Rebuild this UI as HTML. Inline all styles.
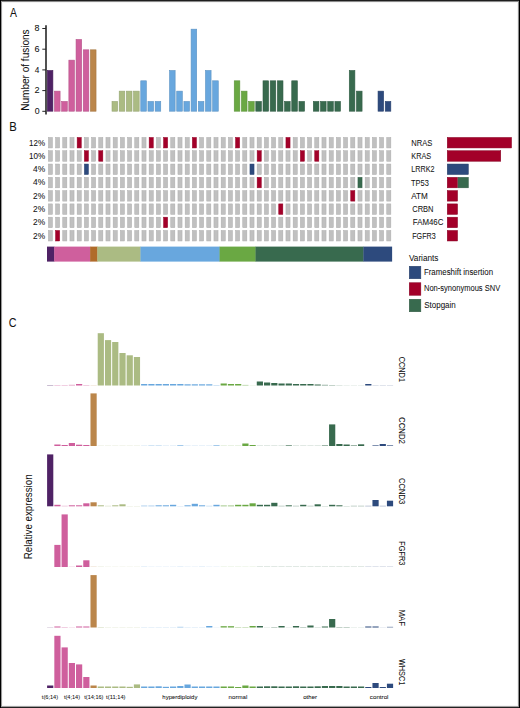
<!DOCTYPE html>
<html><head><meta charset="utf-8"><title>Figure</title>
<style>
html,body{margin:0;padding:0;background:#fff;}
body{width:520px;height:708px;overflow:hidden;}
svg{display:block;font-family:"Liberation Sans", sans-serif;}
</style></head>
<body>
<svg width="520" height="708" viewBox="0 0 520 708">
<rect x="0" y="0" width="520" height="708" fill="#fff"/>
<text x="9.97" y="16.70" font-size="12.2" textLength="6.95" lengthAdjust="spacingAndGlyphs" fill="#111" stroke="#111" stroke-width="0.05">A</text>
<text x="9.17" y="130.50" font-size="12.2" textLength="7.52" lengthAdjust="spacingAndGlyphs" fill="#111" stroke="#111" stroke-width="0.05">B</text>
<text x="8.86" y="326.60" font-size="12.8" textLength="7.76" lengthAdjust="spacingAndGlyphs" fill="#111" stroke="#111" stroke-width="0.05">C</text>
<rect x="47.30" y="70.48" width="5.60" height="40.72" fill="#4f2265" stroke="#461e59" stroke-width="0.6"/>
<rect x="54.49" y="91.14" width="5.60" height="20.06" fill="#cf5f9d" stroke="#b6548a" stroke-width="0.6"/>
<rect x="61.68" y="101.47" width="5.60" height="9.73" fill="#cf5f9d" stroke="#b6548a" stroke-width="0.6"/>
<rect x="68.87" y="60.15" width="5.60" height="51.05" fill="#cf5f9d" stroke="#b6548a" stroke-width="0.6"/>
<rect x="76.06" y="39.49" width="5.60" height="71.71" fill="#cf5f9d" stroke="#b6548a" stroke-width="0.6"/>
<rect x="83.25" y="49.82" width="5.60" height="61.38" fill="#cf5f9d" stroke="#b6548a" stroke-width="0.6"/>
<rect x="90.44" y="49.82" width="5.60" height="61.38" fill="#bb864b" stroke="#a57642" stroke-width="0.6"/>
<rect x="112.01" y="101.47" width="5.60" height="9.73" fill="#abbb83" stroke="#96a573" stroke-width="0.6"/>
<rect x="119.20" y="91.14" width="5.60" height="20.06" fill="#abbb83" stroke="#96a573" stroke-width="0.6"/>
<rect x="126.39" y="91.14" width="5.60" height="20.06" fill="#abbb83" stroke="#96a573" stroke-width="0.6"/>
<rect x="133.58" y="91.14" width="5.60" height="20.06" fill="#abbb83" stroke="#96a573" stroke-width="0.6"/>
<rect x="140.77" y="80.81" width="5.60" height="30.39" fill="#68a7de" stroke="#5c93c3" stroke-width="0.6"/>
<rect x="147.96" y="101.47" width="5.60" height="9.73" fill="#68a7de" stroke="#5c93c3" stroke-width="0.6"/>
<rect x="155.15" y="101.47" width="5.60" height="9.73" fill="#68a7de" stroke="#5c93c3" stroke-width="0.6"/>
<rect x="169.53" y="70.48" width="5.60" height="40.72" fill="#68a7de" stroke="#5c93c3" stroke-width="0.6"/>
<rect x="176.72" y="91.14" width="5.60" height="20.06" fill="#68a7de" stroke="#5c93c3" stroke-width="0.6"/>
<rect x="183.91" y="101.47" width="5.60" height="9.73" fill="#68a7de" stroke="#5c93c3" stroke-width="0.6"/>
<rect x="191.10" y="29.16" width="5.60" height="82.04" fill="#68a7de" stroke="#5c93c3" stroke-width="0.6"/>
<rect x="198.29" y="101.47" width="5.60" height="9.73" fill="#68a7de" stroke="#5c93c3" stroke-width="0.6"/>
<rect x="205.48" y="70.48" width="5.60" height="40.72" fill="#68a7de" stroke="#5c93c3" stroke-width="0.6"/>
<rect x="212.67" y="80.81" width="5.60" height="30.39" fill="#68a7de" stroke="#5c93c3" stroke-width="0.6"/>
<rect x="234.24" y="80.81" width="5.60" height="30.39" fill="#6aa843" stroke="#5d943b" stroke-width="0.6"/>
<rect x="241.43" y="91.14" width="5.60" height="20.06" fill="#6aa843" stroke="#5d943b" stroke-width="0.6"/>
<rect x="248.62" y="101.47" width="5.60" height="9.73" fill="#6aa843" stroke="#5d943b" stroke-width="0.6"/>
<rect x="255.81" y="101.47" width="5.60" height="9.73" fill="#386a4e" stroke="#315d45" stroke-width="0.6"/>
<rect x="263.00" y="80.81" width="5.60" height="30.39" fill="#386a4e" stroke="#315d45" stroke-width="0.6"/>
<rect x="270.19" y="80.81" width="5.60" height="30.39" fill="#386a4e" stroke="#315d45" stroke-width="0.6"/>
<rect x="277.38" y="80.81" width="5.60" height="30.39" fill="#386a4e" stroke="#315d45" stroke-width="0.6"/>
<rect x="284.57" y="101.47" width="5.60" height="9.73" fill="#386a4e" stroke="#315d45" stroke-width="0.6"/>
<rect x="291.76" y="80.81" width="5.60" height="30.39" fill="#386a4e" stroke="#315d45" stroke-width="0.6"/>
<rect x="298.95" y="101.47" width="5.60" height="9.73" fill="#386a4e" stroke="#315d45" stroke-width="0.6"/>
<rect x="313.33" y="101.47" width="5.60" height="9.73" fill="#386a4e" stroke="#315d45" stroke-width="0.6"/>
<rect x="320.52" y="101.47" width="5.60" height="9.73" fill="#386a4e" stroke="#315d45" stroke-width="0.6"/>
<rect x="327.71" y="101.47" width="5.60" height="9.73" fill="#386a4e" stroke="#315d45" stroke-width="0.6"/>
<rect x="334.90" y="101.47" width="5.60" height="9.73" fill="#386a4e" stroke="#315d45" stroke-width="0.6"/>
<rect x="349.28" y="70.48" width="5.60" height="40.72" fill="#386a4e" stroke="#315d45" stroke-width="0.6"/>
<rect x="356.47" y="91.14" width="5.60" height="20.06" fill="#386a4e" stroke="#315d45" stroke-width="0.6"/>
<rect x="378.04" y="91.14" width="5.60" height="20.06" fill="#2d4a7d" stroke="#28416e" stroke-width="0.6"/>
<rect x="385.23" y="101.47" width="5.60" height="9.73" fill="#2d4a7d" stroke="#28416e" stroke-width="0.6"/>
<line x1="46.0" y1="25.3" x2="46.0" y2="114.6" stroke="#262626" stroke-width="1.6"/>
<line x1="42.3" y1="111.30" x2="46" y2="111.30" stroke="#262626" stroke-width="1"/>
<text x="34.65" y="113.90" font-size="8.2" textLength="4.89" lengthAdjust="spacingAndGlyphs" fill="#111" stroke="#111" stroke-width="0.05">0</text>
<line x1="42.3" y1="90.60" x2="46" y2="90.60" stroke="#262626" stroke-width="1"/>
<text x="34.54" y="93.20" font-size="8.2" textLength="5.13" lengthAdjust="spacingAndGlyphs" fill="#111" stroke="#111" stroke-width="0.05">2</text>
<line x1="42.3" y1="69.90" x2="46" y2="69.90" stroke="#262626" stroke-width="1"/>
<text x="34.81" y="72.50" font-size="8.2" textLength="4.63" lengthAdjust="spacingAndGlyphs" fill="#111" stroke="#111" stroke-width="0.05">4</text>
<line x1="42.3" y1="49.20" x2="46" y2="49.20" stroke="#262626" stroke-width="1"/>
<text x="34.55" y="51.80" font-size="8.2" textLength="5.05" lengthAdjust="spacingAndGlyphs" fill="#111" stroke="#111" stroke-width="0.05">6</text>
<line x1="42.3" y1="28.50" x2="46" y2="28.50" stroke="#262626" stroke-width="1"/>
<text x="34.62" y="31.10" font-size="8.2" textLength="4.97" lengthAdjust="spacingAndGlyphs" fill="#111" stroke="#111" stroke-width="0.05">8</text>
<text x="28.60" y="110.73" font-size="10.8" textLength="81.38" lengthAdjust="spacingAndGlyphs" transform="rotate(-90 28.60 110.73)" fill="#111" stroke="#111" stroke-width="0.05">Number of fusions</text>
<rect x="48.35" y="137.45" width="4.10" height="10.50" fill="#c0c0c0" stroke="#adadad" stroke-width="0.5"/>
<rect x="55.55" y="137.45" width="4.10" height="10.50" fill="#c0c0c0" stroke="#adadad" stroke-width="0.5"/>
<rect x="62.75" y="137.45" width="4.10" height="10.50" fill="#c0c0c0" stroke="#adadad" stroke-width="0.5"/>
<rect x="69.95" y="137.45" width="4.10" height="10.50" fill="#c0c0c0" stroke="#adadad" stroke-width="0.5"/>
<rect x="77.15" y="137.45" width="4.10" height="10.50" fill="#a30029" stroke="#930025" stroke-width="0.5"/>
<rect x="84.35" y="137.45" width="4.10" height="10.50" fill="#c0c0c0" stroke="#adadad" stroke-width="0.5"/>
<rect x="91.55" y="137.45" width="4.10" height="10.50" fill="#c0c0c0" stroke="#adadad" stroke-width="0.5"/>
<rect x="98.75" y="137.45" width="4.10" height="10.50" fill="#c0c0c0" stroke="#adadad" stroke-width="0.5"/>
<rect x="105.95" y="137.45" width="4.10" height="10.50" fill="#c0c0c0" stroke="#adadad" stroke-width="0.5"/>
<rect x="113.15" y="137.45" width="4.10" height="10.50" fill="#c0c0c0" stroke="#adadad" stroke-width="0.5"/>
<rect x="120.35" y="137.45" width="4.10" height="10.50" fill="#c0c0c0" stroke="#adadad" stroke-width="0.5"/>
<rect x="127.55" y="137.45" width="4.10" height="10.50" fill="#c0c0c0" stroke="#adadad" stroke-width="0.5"/>
<rect x="134.75" y="137.45" width="4.10" height="10.50" fill="#c0c0c0" stroke="#adadad" stroke-width="0.5"/>
<rect x="141.95" y="137.45" width="4.10" height="10.50" fill="#c0c0c0" stroke="#adadad" stroke-width="0.5"/>
<rect x="149.15" y="137.45" width="4.10" height="10.50" fill="#a30029" stroke="#930025" stroke-width="0.5"/>
<rect x="156.35" y="137.45" width="4.10" height="10.50" fill="#c0c0c0" stroke="#adadad" stroke-width="0.5"/>
<rect x="163.55" y="137.45" width="4.10" height="10.50" fill="#a30029" stroke="#930025" stroke-width="0.5"/>
<rect x="170.75" y="137.45" width="4.10" height="10.50" fill="#c0c0c0" stroke="#adadad" stroke-width="0.5"/>
<rect x="177.95" y="137.45" width="4.10" height="10.50" fill="#c0c0c0" stroke="#adadad" stroke-width="0.5"/>
<rect x="185.15" y="137.45" width="4.10" height="10.50" fill="#c0c0c0" stroke="#adadad" stroke-width="0.5"/>
<rect x="192.35" y="137.45" width="4.10" height="10.50" fill="#a30029" stroke="#930025" stroke-width="0.5"/>
<rect x="199.55" y="137.45" width="4.10" height="10.50" fill="#c0c0c0" stroke="#adadad" stroke-width="0.5"/>
<rect x="206.75" y="137.45" width="4.10" height="10.50" fill="#c0c0c0" stroke="#adadad" stroke-width="0.5"/>
<rect x="213.95" y="137.45" width="4.10" height="10.50" fill="#c0c0c0" stroke="#adadad" stroke-width="0.5"/>
<rect x="221.15" y="137.45" width="4.10" height="10.50" fill="#c0c0c0" stroke="#adadad" stroke-width="0.5"/>
<rect x="228.35" y="137.45" width="4.10" height="10.50" fill="#c0c0c0" stroke="#adadad" stroke-width="0.5"/>
<rect x="235.55" y="137.45" width="4.10" height="10.50" fill="#a30029" stroke="#930025" stroke-width="0.5"/>
<rect x="242.75" y="137.45" width="4.10" height="10.50" fill="#c0c0c0" stroke="#adadad" stroke-width="0.5"/>
<rect x="249.95" y="137.45" width="4.10" height="10.50" fill="#c0c0c0" stroke="#adadad" stroke-width="0.5"/>
<rect x="257.15" y="137.45" width="4.10" height="10.50" fill="#c0c0c0" stroke="#adadad" stroke-width="0.5"/>
<rect x="264.35" y="137.45" width="4.10" height="10.50" fill="#c0c0c0" stroke="#adadad" stroke-width="0.5"/>
<rect x="271.55" y="137.45" width="4.10" height="10.50" fill="#c0c0c0" stroke="#adadad" stroke-width="0.5"/>
<rect x="278.75" y="137.45" width="4.10" height="10.50" fill="#c0c0c0" stroke="#adadad" stroke-width="0.5"/>
<rect x="285.95" y="137.45" width="4.10" height="10.50" fill="#a30029" stroke="#930025" stroke-width="0.5"/>
<rect x="293.15" y="137.45" width="4.10" height="10.50" fill="#c0c0c0" stroke="#adadad" stroke-width="0.5"/>
<rect x="300.35" y="137.45" width="4.10" height="10.50" fill="#c0c0c0" stroke="#adadad" stroke-width="0.5"/>
<rect x="307.55" y="137.45" width="4.10" height="10.50" fill="#c0c0c0" stroke="#adadad" stroke-width="0.5"/>
<rect x="314.75" y="137.45" width="4.10" height="10.50" fill="#c0c0c0" stroke="#adadad" stroke-width="0.5"/>
<rect x="321.95" y="137.45" width="4.10" height="10.50" fill="#c0c0c0" stroke="#adadad" stroke-width="0.5"/>
<rect x="329.15" y="137.45" width="4.10" height="10.50" fill="#c0c0c0" stroke="#adadad" stroke-width="0.5"/>
<rect x="336.35" y="137.45" width="4.10" height="10.50" fill="#c0c0c0" stroke="#adadad" stroke-width="0.5"/>
<rect x="343.55" y="137.45" width="4.10" height="10.50" fill="#c0c0c0" stroke="#adadad" stroke-width="0.5"/>
<rect x="350.75" y="137.45" width="4.10" height="10.50" fill="#c0c0c0" stroke="#adadad" stroke-width="0.5"/>
<rect x="357.95" y="137.45" width="4.10" height="10.50" fill="#c0c0c0" stroke="#adadad" stroke-width="0.5"/>
<rect x="365.15" y="137.45" width="4.10" height="10.50" fill="#c0c0c0" stroke="#adadad" stroke-width="0.5"/>
<rect x="372.35" y="137.45" width="4.10" height="10.50" fill="#c0c0c0" stroke="#adadad" stroke-width="0.5"/>
<rect x="379.55" y="137.45" width="4.10" height="10.50" fill="#c0c0c0" stroke="#adadad" stroke-width="0.5"/>
<rect x="386.75" y="137.45" width="4.10" height="10.50" fill="#c0c0c0" stroke="#adadad" stroke-width="0.5"/>
<text x="29.10" y="145.50" font-size="8.2" textLength="15.99" lengthAdjust="spacingAndGlyphs" fill="#111" stroke="#111" stroke-width="0.05">12%</text>
<text x="411.27" y="145.70" font-size="8.6" textLength="21.07" lengthAdjust="spacingAndGlyphs" fill="#111" stroke="#111" stroke-width="0.05">NRAS</text>
<rect x="48.35" y="150.74" width="4.10" height="10.50" fill="#c0c0c0" stroke="#adadad" stroke-width="0.5"/>
<rect x="55.55" y="150.74" width="4.10" height="10.50" fill="#c0c0c0" stroke="#adadad" stroke-width="0.5"/>
<rect x="62.75" y="150.74" width="4.10" height="10.50" fill="#c0c0c0" stroke="#adadad" stroke-width="0.5"/>
<rect x="69.95" y="150.74" width="4.10" height="10.50" fill="#c0c0c0" stroke="#adadad" stroke-width="0.5"/>
<rect x="77.15" y="150.74" width="4.10" height="10.50" fill="#c0c0c0" stroke="#adadad" stroke-width="0.5"/>
<rect x="84.35" y="150.74" width="4.10" height="10.50" fill="#a30029" stroke="#930025" stroke-width="0.5"/>
<rect x="91.55" y="150.74" width="4.10" height="10.50" fill="#c0c0c0" stroke="#adadad" stroke-width="0.5"/>
<rect x="98.75" y="150.74" width="4.10" height="10.50" fill="#a30029" stroke="#930025" stroke-width="0.5"/>
<rect x="105.95" y="150.74" width="4.10" height="10.50" fill="#c0c0c0" stroke="#adadad" stroke-width="0.5"/>
<rect x="113.15" y="150.74" width="4.10" height="10.50" fill="#c0c0c0" stroke="#adadad" stroke-width="0.5"/>
<rect x="120.35" y="150.74" width="4.10" height="10.50" fill="#c0c0c0" stroke="#adadad" stroke-width="0.5"/>
<rect x="127.55" y="150.74" width="4.10" height="10.50" fill="#c0c0c0" stroke="#adadad" stroke-width="0.5"/>
<rect x="134.75" y="150.74" width="4.10" height="10.50" fill="#c0c0c0" stroke="#adadad" stroke-width="0.5"/>
<rect x="141.95" y="150.74" width="4.10" height="10.50" fill="#c0c0c0" stroke="#adadad" stroke-width="0.5"/>
<rect x="149.15" y="150.74" width="4.10" height="10.50" fill="#c0c0c0" stroke="#adadad" stroke-width="0.5"/>
<rect x="156.35" y="150.74" width="4.10" height="10.50" fill="#c0c0c0" stroke="#adadad" stroke-width="0.5"/>
<rect x="163.55" y="150.74" width="4.10" height="10.50" fill="#c0c0c0" stroke="#adadad" stroke-width="0.5"/>
<rect x="170.75" y="150.74" width="4.10" height="10.50" fill="#c0c0c0" stroke="#adadad" stroke-width="0.5"/>
<rect x="177.95" y="150.74" width="4.10" height="10.50" fill="#c0c0c0" stroke="#adadad" stroke-width="0.5"/>
<rect x="185.15" y="150.74" width="4.10" height="10.50" fill="#c0c0c0" stroke="#adadad" stroke-width="0.5"/>
<rect x="192.35" y="150.74" width="4.10" height="10.50" fill="#c0c0c0" stroke="#adadad" stroke-width="0.5"/>
<rect x="199.55" y="150.74" width="4.10" height="10.50" fill="#c0c0c0" stroke="#adadad" stroke-width="0.5"/>
<rect x="206.75" y="150.74" width="4.10" height="10.50" fill="#c0c0c0" stroke="#adadad" stroke-width="0.5"/>
<rect x="213.95" y="150.74" width="4.10" height="10.50" fill="#c0c0c0" stroke="#adadad" stroke-width="0.5"/>
<rect x="221.15" y="150.74" width="4.10" height="10.50" fill="#c0c0c0" stroke="#adadad" stroke-width="0.5"/>
<rect x="228.35" y="150.74" width="4.10" height="10.50" fill="#c0c0c0" stroke="#adadad" stroke-width="0.5"/>
<rect x="235.55" y="150.74" width="4.10" height="10.50" fill="#c0c0c0" stroke="#adadad" stroke-width="0.5"/>
<rect x="242.75" y="150.74" width="4.10" height="10.50" fill="#c0c0c0" stroke="#adadad" stroke-width="0.5"/>
<rect x="249.95" y="150.74" width="4.10" height="10.50" fill="#c0c0c0" stroke="#adadad" stroke-width="0.5"/>
<rect x="257.15" y="150.74" width="4.10" height="10.50" fill="#a30029" stroke="#930025" stroke-width="0.5"/>
<rect x="264.35" y="150.74" width="4.10" height="10.50" fill="#c0c0c0" stroke="#adadad" stroke-width="0.5"/>
<rect x="271.55" y="150.74" width="4.10" height="10.50" fill="#c0c0c0" stroke="#adadad" stroke-width="0.5"/>
<rect x="278.75" y="150.74" width="4.10" height="10.50" fill="#c0c0c0" stroke="#adadad" stroke-width="0.5"/>
<rect x="285.95" y="150.74" width="4.10" height="10.50" fill="#c0c0c0" stroke="#adadad" stroke-width="0.5"/>
<rect x="293.15" y="150.74" width="4.10" height="10.50" fill="#c0c0c0" stroke="#adadad" stroke-width="0.5"/>
<rect x="300.35" y="150.74" width="4.10" height="10.50" fill="#a30029" stroke="#930025" stroke-width="0.5"/>
<rect x="307.55" y="150.74" width="4.10" height="10.50" fill="#c0c0c0" stroke="#adadad" stroke-width="0.5"/>
<rect x="314.75" y="150.74" width="4.10" height="10.50" fill="#a30029" stroke="#930025" stroke-width="0.5"/>
<rect x="321.95" y="150.74" width="4.10" height="10.50" fill="#c0c0c0" stroke="#adadad" stroke-width="0.5"/>
<rect x="329.15" y="150.74" width="4.10" height="10.50" fill="#c0c0c0" stroke="#adadad" stroke-width="0.5"/>
<rect x="336.35" y="150.74" width="4.10" height="10.50" fill="#c0c0c0" stroke="#adadad" stroke-width="0.5"/>
<rect x="343.55" y="150.74" width="4.10" height="10.50" fill="#c0c0c0" stroke="#adadad" stroke-width="0.5"/>
<rect x="350.75" y="150.74" width="4.10" height="10.50" fill="#c0c0c0" stroke="#adadad" stroke-width="0.5"/>
<rect x="357.95" y="150.74" width="4.10" height="10.50" fill="#c0c0c0" stroke="#adadad" stroke-width="0.5"/>
<rect x="365.15" y="150.74" width="4.10" height="10.50" fill="#c0c0c0" stroke="#adadad" stroke-width="0.5"/>
<rect x="372.35" y="150.74" width="4.10" height="10.50" fill="#c0c0c0" stroke="#adadad" stroke-width="0.5"/>
<rect x="379.55" y="150.74" width="4.10" height="10.50" fill="#c0c0c0" stroke="#adadad" stroke-width="0.5"/>
<rect x="386.75" y="150.74" width="4.10" height="10.50" fill="#c0c0c0" stroke="#adadad" stroke-width="0.5"/>
<text x="28.89" y="158.79" font-size="8.2" textLength="16.20" lengthAdjust="spacingAndGlyphs" fill="#111" stroke="#111" stroke-width="0.05">10%</text>
<text x="411.30" y="158.99" font-size="8.6" textLength="19.85" lengthAdjust="spacingAndGlyphs" fill="#111" stroke="#111" stroke-width="0.05">KRAS</text>
<rect x="48.35" y="164.03" width="4.10" height="10.50" fill="#c0c0c0" stroke="#adadad" stroke-width="0.5"/>
<rect x="55.55" y="164.03" width="4.10" height="10.50" fill="#c0c0c0" stroke="#adadad" stroke-width="0.5"/>
<rect x="62.75" y="164.03" width="4.10" height="10.50" fill="#c0c0c0" stroke="#adadad" stroke-width="0.5"/>
<rect x="69.95" y="164.03" width="4.10" height="10.50" fill="#c0c0c0" stroke="#adadad" stroke-width="0.5"/>
<rect x="77.15" y="164.03" width="4.10" height="10.50" fill="#c0c0c0" stroke="#adadad" stroke-width="0.5"/>
<rect x="84.35" y="164.03" width="4.10" height="10.50" fill="#2d4a7d" stroke="#284370" stroke-width="0.5"/>
<rect x="91.55" y="164.03" width="4.10" height="10.50" fill="#c0c0c0" stroke="#adadad" stroke-width="0.5"/>
<rect x="98.75" y="164.03" width="4.10" height="10.50" fill="#c0c0c0" stroke="#adadad" stroke-width="0.5"/>
<rect x="105.95" y="164.03" width="4.10" height="10.50" fill="#c0c0c0" stroke="#adadad" stroke-width="0.5"/>
<rect x="113.15" y="164.03" width="4.10" height="10.50" fill="#c0c0c0" stroke="#adadad" stroke-width="0.5"/>
<rect x="120.35" y="164.03" width="4.10" height="10.50" fill="#c0c0c0" stroke="#adadad" stroke-width="0.5"/>
<rect x="127.55" y="164.03" width="4.10" height="10.50" fill="#c0c0c0" stroke="#adadad" stroke-width="0.5"/>
<rect x="134.75" y="164.03" width="4.10" height="10.50" fill="#c0c0c0" stroke="#adadad" stroke-width="0.5"/>
<rect x="141.95" y="164.03" width="4.10" height="10.50" fill="#c0c0c0" stroke="#adadad" stroke-width="0.5"/>
<rect x="149.15" y="164.03" width="4.10" height="10.50" fill="#c0c0c0" stroke="#adadad" stroke-width="0.5"/>
<rect x="156.35" y="164.03" width="4.10" height="10.50" fill="#c0c0c0" stroke="#adadad" stroke-width="0.5"/>
<rect x="163.55" y="164.03" width="4.10" height="10.50" fill="#c0c0c0" stroke="#adadad" stroke-width="0.5"/>
<rect x="170.75" y="164.03" width="4.10" height="10.50" fill="#c0c0c0" stroke="#adadad" stroke-width="0.5"/>
<rect x="177.95" y="164.03" width="4.10" height="10.50" fill="#c0c0c0" stroke="#adadad" stroke-width="0.5"/>
<rect x="185.15" y="164.03" width="4.10" height="10.50" fill="#c0c0c0" stroke="#adadad" stroke-width="0.5"/>
<rect x="192.35" y="164.03" width="4.10" height="10.50" fill="#c0c0c0" stroke="#adadad" stroke-width="0.5"/>
<rect x="199.55" y="164.03" width="4.10" height="10.50" fill="#c0c0c0" stroke="#adadad" stroke-width="0.5"/>
<rect x="206.75" y="164.03" width="4.10" height="10.50" fill="#c0c0c0" stroke="#adadad" stroke-width="0.5"/>
<rect x="213.95" y="164.03" width="4.10" height="10.50" fill="#c0c0c0" stroke="#adadad" stroke-width="0.5"/>
<rect x="221.15" y="164.03" width="4.10" height="10.50" fill="#c0c0c0" stroke="#adadad" stroke-width="0.5"/>
<rect x="228.35" y="164.03" width="4.10" height="10.50" fill="#c0c0c0" stroke="#adadad" stroke-width="0.5"/>
<rect x="235.55" y="164.03" width="4.10" height="10.50" fill="#c0c0c0" stroke="#adadad" stroke-width="0.5"/>
<rect x="242.75" y="164.03" width="4.10" height="10.50" fill="#c0c0c0" stroke="#adadad" stroke-width="0.5"/>
<rect x="249.95" y="164.03" width="4.10" height="10.50" fill="#2d4a7d" stroke="#284370" stroke-width="0.5"/>
<rect x="257.15" y="164.03" width="4.10" height="10.50" fill="#c0c0c0" stroke="#adadad" stroke-width="0.5"/>
<rect x="264.35" y="164.03" width="4.10" height="10.50" fill="#c0c0c0" stroke="#adadad" stroke-width="0.5"/>
<rect x="271.55" y="164.03" width="4.10" height="10.50" fill="#c0c0c0" stroke="#adadad" stroke-width="0.5"/>
<rect x="278.75" y="164.03" width="4.10" height="10.50" fill="#c0c0c0" stroke="#adadad" stroke-width="0.5"/>
<rect x="285.95" y="164.03" width="4.10" height="10.50" fill="#c0c0c0" stroke="#adadad" stroke-width="0.5"/>
<rect x="293.15" y="164.03" width="4.10" height="10.50" fill="#c0c0c0" stroke="#adadad" stroke-width="0.5"/>
<rect x="300.35" y="164.03" width="4.10" height="10.50" fill="#c0c0c0" stroke="#adadad" stroke-width="0.5"/>
<rect x="307.55" y="164.03" width="4.10" height="10.50" fill="#c0c0c0" stroke="#adadad" stroke-width="0.5"/>
<rect x="314.75" y="164.03" width="4.10" height="10.50" fill="#c0c0c0" stroke="#adadad" stroke-width="0.5"/>
<rect x="321.95" y="164.03" width="4.10" height="10.50" fill="#c0c0c0" stroke="#adadad" stroke-width="0.5"/>
<rect x="329.15" y="164.03" width="4.10" height="10.50" fill="#c0c0c0" stroke="#adadad" stroke-width="0.5"/>
<rect x="336.35" y="164.03" width="4.10" height="10.50" fill="#c0c0c0" stroke="#adadad" stroke-width="0.5"/>
<rect x="343.55" y="164.03" width="4.10" height="10.50" fill="#c0c0c0" stroke="#adadad" stroke-width="0.5"/>
<rect x="350.75" y="164.03" width="4.10" height="10.50" fill="#c0c0c0" stroke="#adadad" stroke-width="0.5"/>
<rect x="357.95" y="164.03" width="4.10" height="10.50" fill="#c0c0c0" stroke="#adadad" stroke-width="0.5"/>
<rect x="365.15" y="164.03" width="4.10" height="10.50" fill="#c0c0c0" stroke="#adadad" stroke-width="0.5"/>
<rect x="372.35" y="164.03" width="4.10" height="10.50" fill="#c0c0c0" stroke="#adadad" stroke-width="0.5"/>
<rect x="379.55" y="164.03" width="4.10" height="10.50" fill="#c0c0c0" stroke="#adadad" stroke-width="0.5"/>
<rect x="386.75" y="164.03" width="4.10" height="10.50" fill="#c0c0c0" stroke="#adadad" stroke-width="0.5"/>
<text x="33.01" y="172.08" font-size="8.2" textLength="12.11" lengthAdjust="spacingAndGlyphs" fill="#111" stroke="#111" stroke-width="0.05">4%</text>
<text x="411.30" y="172.28" font-size="8.6" textLength="23.26" lengthAdjust="spacingAndGlyphs" fill="#111" stroke="#111" stroke-width="0.05">LRRK2</text>
<rect x="48.35" y="177.32" width="4.10" height="10.50" fill="#c0c0c0" stroke="#adadad" stroke-width="0.5"/>
<rect x="55.55" y="177.32" width="4.10" height="10.50" fill="#c0c0c0" stroke="#adadad" stroke-width="0.5"/>
<rect x="62.75" y="177.32" width="4.10" height="10.50" fill="#c0c0c0" stroke="#adadad" stroke-width="0.5"/>
<rect x="69.95" y="177.32" width="4.10" height="10.50" fill="#c0c0c0" stroke="#adadad" stroke-width="0.5"/>
<rect x="77.15" y="177.32" width="4.10" height="10.50" fill="#c0c0c0" stroke="#adadad" stroke-width="0.5"/>
<rect x="84.35" y="177.32" width="4.10" height="10.50" fill="#c0c0c0" stroke="#adadad" stroke-width="0.5"/>
<rect x="91.55" y="177.32" width="4.10" height="10.50" fill="#c0c0c0" stroke="#adadad" stroke-width="0.5"/>
<rect x="98.75" y="177.32" width="4.10" height="10.50" fill="#c0c0c0" stroke="#adadad" stroke-width="0.5"/>
<rect x="105.95" y="177.32" width="4.10" height="10.50" fill="#c0c0c0" stroke="#adadad" stroke-width="0.5"/>
<rect x="113.15" y="177.32" width="4.10" height="10.50" fill="#c0c0c0" stroke="#adadad" stroke-width="0.5"/>
<rect x="120.35" y="177.32" width="4.10" height="10.50" fill="#c0c0c0" stroke="#adadad" stroke-width="0.5"/>
<rect x="127.55" y="177.32" width="4.10" height="10.50" fill="#c0c0c0" stroke="#adadad" stroke-width="0.5"/>
<rect x="134.75" y="177.32" width="4.10" height="10.50" fill="#c0c0c0" stroke="#adadad" stroke-width="0.5"/>
<rect x="141.95" y="177.32" width="4.10" height="10.50" fill="#c0c0c0" stroke="#adadad" stroke-width="0.5"/>
<rect x="149.15" y="177.32" width="4.10" height="10.50" fill="#c0c0c0" stroke="#adadad" stroke-width="0.5"/>
<rect x="156.35" y="177.32" width="4.10" height="10.50" fill="#c0c0c0" stroke="#adadad" stroke-width="0.5"/>
<rect x="163.55" y="177.32" width="4.10" height="10.50" fill="#c0c0c0" stroke="#adadad" stroke-width="0.5"/>
<rect x="170.75" y="177.32" width="4.10" height="10.50" fill="#c0c0c0" stroke="#adadad" stroke-width="0.5"/>
<rect x="177.95" y="177.32" width="4.10" height="10.50" fill="#c0c0c0" stroke="#adadad" stroke-width="0.5"/>
<rect x="185.15" y="177.32" width="4.10" height="10.50" fill="#c0c0c0" stroke="#adadad" stroke-width="0.5"/>
<rect x="192.35" y="177.32" width="4.10" height="10.50" fill="#c0c0c0" stroke="#adadad" stroke-width="0.5"/>
<rect x="199.55" y="177.32" width="4.10" height="10.50" fill="#c0c0c0" stroke="#adadad" stroke-width="0.5"/>
<rect x="206.75" y="177.32" width="4.10" height="10.50" fill="#c0c0c0" stroke="#adadad" stroke-width="0.5"/>
<rect x="213.95" y="177.32" width="4.10" height="10.50" fill="#c0c0c0" stroke="#adadad" stroke-width="0.5"/>
<rect x="221.15" y="177.32" width="4.10" height="10.50" fill="#c0c0c0" stroke="#adadad" stroke-width="0.5"/>
<rect x="228.35" y="177.32" width="4.10" height="10.50" fill="#c0c0c0" stroke="#adadad" stroke-width="0.5"/>
<rect x="235.55" y="177.32" width="4.10" height="10.50" fill="#c0c0c0" stroke="#adadad" stroke-width="0.5"/>
<rect x="242.75" y="177.32" width="4.10" height="10.50" fill="#c0c0c0" stroke="#adadad" stroke-width="0.5"/>
<rect x="249.95" y="177.32" width="4.10" height="10.50" fill="#c0c0c0" stroke="#adadad" stroke-width="0.5"/>
<rect x="257.15" y="177.32" width="4.10" height="10.50" fill="#a30029" stroke="#930025" stroke-width="0.5"/>
<rect x="264.35" y="177.32" width="4.10" height="10.50" fill="#c0c0c0" stroke="#adadad" stroke-width="0.5"/>
<rect x="271.55" y="177.32" width="4.10" height="10.50" fill="#c0c0c0" stroke="#adadad" stroke-width="0.5"/>
<rect x="278.75" y="177.32" width="4.10" height="10.50" fill="#c0c0c0" stroke="#adadad" stroke-width="0.5"/>
<rect x="285.95" y="177.32" width="4.10" height="10.50" fill="#c0c0c0" stroke="#adadad" stroke-width="0.5"/>
<rect x="293.15" y="177.32" width="4.10" height="10.50" fill="#c0c0c0" stroke="#adadad" stroke-width="0.5"/>
<rect x="300.35" y="177.32" width="4.10" height="10.50" fill="#c0c0c0" stroke="#adadad" stroke-width="0.5"/>
<rect x="307.55" y="177.32" width="4.10" height="10.50" fill="#c0c0c0" stroke="#adadad" stroke-width="0.5"/>
<rect x="314.75" y="177.32" width="4.10" height="10.50" fill="#c0c0c0" stroke="#adadad" stroke-width="0.5"/>
<rect x="321.95" y="177.32" width="4.10" height="10.50" fill="#c0c0c0" stroke="#adadad" stroke-width="0.5"/>
<rect x="329.15" y="177.32" width="4.10" height="10.50" fill="#c0c0c0" stroke="#adadad" stroke-width="0.5"/>
<rect x="336.35" y="177.32" width="4.10" height="10.50" fill="#c0c0c0" stroke="#adadad" stroke-width="0.5"/>
<rect x="343.55" y="177.32" width="4.10" height="10.50" fill="#c0c0c0" stroke="#adadad" stroke-width="0.5"/>
<rect x="350.75" y="177.32" width="4.10" height="10.50" fill="#c0c0c0" stroke="#adadad" stroke-width="0.5"/>
<rect x="357.95" y="177.32" width="4.10" height="10.50" fill="#386a4e" stroke="#325f46" stroke-width="0.5"/>
<rect x="365.15" y="177.32" width="4.10" height="10.50" fill="#c0c0c0" stroke="#adadad" stroke-width="0.5"/>
<rect x="372.35" y="177.32" width="4.10" height="10.50" fill="#c0c0c0" stroke="#adadad" stroke-width="0.5"/>
<rect x="379.55" y="177.32" width="4.10" height="10.50" fill="#c0c0c0" stroke="#adadad" stroke-width="0.5"/>
<rect x="386.75" y="177.32" width="4.10" height="10.50" fill="#c0c0c0" stroke="#adadad" stroke-width="0.5"/>
<text x="33.01" y="185.37" font-size="8.2" textLength="12.11" lengthAdjust="spacingAndGlyphs" fill="#111" stroke="#111" stroke-width="0.05">4%</text>
<text x="411.03" y="185.57" font-size="8.6" textLength="17.79" lengthAdjust="spacingAndGlyphs" fill="#111" stroke="#111" stroke-width="0.05">TP53</text>
<rect x="48.35" y="190.61" width="4.10" height="10.50" fill="#c0c0c0" stroke="#adadad" stroke-width="0.5"/>
<rect x="55.55" y="190.61" width="4.10" height="10.50" fill="#c0c0c0" stroke="#adadad" stroke-width="0.5"/>
<rect x="62.75" y="190.61" width="4.10" height="10.50" fill="#c0c0c0" stroke="#adadad" stroke-width="0.5"/>
<rect x="69.95" y="190.61" width="4.10" height="10.50" fill="#c0c0c0" stroke="#adadad" stroke-width="0.5"/>
<rect x="77.15" y="190.61" width="4.10" height="10.50" fill="#c0c0c0" stroke="#adadad" stroke-width="0.5"/>
<rect x="84.35" y="190.61" width="4.10" height="10.50" fill="#c0c0c0" stroke="#adadad" stroke-width="0.5"/>
<rect x="91.55" y="190.61" width="4.10" height="10.50" fill="#c0c0c0" stroke="#adadad" stroke-width="0.5"/>
<rect x="98.75" y="190.61" width="4.10" height="10.50" fill="#c0c0c0" stroke="#adadad" stroke-width="0.5"/>
<rect x="105.95" y="190.61" width="4.10" height="10.50" fill="#c0c0c0" stroke="#adadad" stroke-width="0.5"/>
<rect x="113.15" y="190.61" width="4.10" height="10.50" fill="#c0c0c0" stroke="#adadad" stroke-width="0.5"/>
<rect x="120.35" y="190.61" width="4.10" height="10.50" fill="#c0c0c0" stroke="#adadad" stroke-width="0.5"/>
<rect x="127.55" y="190.61" width="4.10" height="10.50" fill="#c0c0c0" stroke="#adadad" stroke-width="0.5"/>
<rect x="134.75" y="190.61" width="4.10" height="10.50" fill="#c0c0c0" stroke="#adadad" stroke-width="0.5"/>
<rect x="141.95" y="190.61" width="4.10" height="10.50" fill="#c0c0c0" stroke="#adadad" stroke-width="0.5"/>
<rect x="149.15" y="190.61" width="4.10" height="10.50" fill="#c0c0c0" stroke="#adadad" stroke-width="0.5"/>
<rect x="156.35" y="190.61" width="4.10" height="10.50" fill="#c0c0c0" stroke="#adadad" stroke-width="0.5"/>
<rect x="163.55" y="190.61" width="4.10" height="10.50" fill="#c0c0c0" stroke="#adadad" stroke-width="0.5"/>
<rect x="170.75" y="190.61" width="4.10" height="10.50" fill="#c0c0c0" stroke="#adadad" stroke-width="0.5"/>
<rect x="177.95" y="190.61" width="4.10" height="10.50" fill="#c0c0c0" stroke="#adadad" stroke-width="0.5"/>
<rect x="185.15" y="190.61" width="4.10" height="10.50" fill="#c0c0c0" stroke="#adadad" stroke-width="0.5"/>
<rect x="192.35" y="190.61" width="4.10" height="10.50" fill="#c0c0c0" stroke="#adadad" stroke-width="0.5"/>
<rect x="199.55" y="190.61" width="4.10" height="10.50" fill="#c0c0c0" stroke="#adadad" stroke-width="0.5"/>
<rect x="206.75" y="190.61" width="4.10" height="10.50" fill="#c0c0c0" stroke="#adadad" stroke-width="0.5"/>
<rect x="213.95" y="190.61" width="4.10" height="10.50" fill="#c0c0c0" stroke="#adadad" stroke-width="0.5"/>
<rect x="221.15" y="190.61" width="4.10" height="10.50" fill="#c0c0c0" stroke="#adadad" stroke-width="0.5"/>
<rect x="228.35" y="190.61" width="4.10" height="10.50" fill="#c0c0c0" stroke="#adadad" stroke-width="0.5"/>
<rect x="235.55" y="190.61" width="4.10" height="10.50" fill="#c0c0c0" stroke="#adadad" stroke-width="0.5"/>
<rect x="242.75" y="190.61" width="4.10" height="10.50" fill="#c0c0c0" stroke="#adadad" stroke-width="0.5"/>
<rect x="249.95" y="190.61" width="4.10" height="10.50" fill="#c0c0c0" stroke="#adadad" stroke-width="0.5"/>
<rect x="257.15" y="190.61" width="4.10" height="10.50" fill="#c0c0c0" stroke="#adadad" stroke-width="0.5"/>
<rect x="264.35" y="190.61" width="4.10" height="10.50" fill="#c0c0c0" stroke="#adadad" stroke-width="0.5"/>
<rect x="271.55" y="190.61" width="4.10" height="10.50" fill="#c0c0c0" stroke="#adadad" stroke-width="0.5"/>
<rect x="278.75" y="190.61" width="4.10" height="10.50" fill="#c0c0c0" stroke="#adadad" stroke-width="0.5"/>
<rect x="285.95" y="190.61" width="4.10" height="10.50" fill="#c0c0c0" stroke="#adadad" stroke-width="0.5"/>
<rect x="293.15" y="190.61" width="4.10" height="10.50" fill="#c0c0c0" stroke="#adadad" stroke-width="0.5"/>
<rect x="300.35" y="190.61" width="4.10" height="10.50" fill="#c0c0c0" stroke="#adadad" stroke-width="0.5"/>
<rect x="307.55" y="190.61" width="4.10" height="10.50" fill="#c0c0c0" stroke="#adadad" stroke-width="0.5"/>
<rect x="314.75" y="190.61" width="4.10" height="10.50" fill="#c0c0c0" stroke="#adadad" stroke-width="0.5"/>
<rect x="321.95" y="190.61" width="4.10" height="10.50" fill="#c0c0c0" stroke="#adadad" stroke-width="0.5"/>
<rect x="329.15" y="190.61" width="4.10" height="10.50" fill="#c0c0c0" stroke="#adadad" stroke-width="0.5"/>
<rect x="336.35" y="190.61" width="4.10" height="10.50" fill="#c0c0c0" stroke="#adadad" stroke-width="0.5"/>
<rect x="343.55" y="190.61" width="4.10" height="10.50" fill="#c0c0c0" stroke="#adadad" stroke-width="0.5"/>
<rect x="350.75" y="190.61" width="4.10" height="10.50" fill="#a30029" stroke="#930025" stroke-width="0.5"/>
<rect x="357.95" y="190.61" width="4.10" height="10.50" fill="#c0c0c0" stroke="#adadad" stroke-width="0.5"/>
<rect x="365.15" y="190.61" width="4.10" height="10.50" fill="#c0c0c0" stroke="#adadad" stroke-width="0.5"/>
<rect x="372.35" y="190.61" width="4.10" height="10.50" fill="#c0c0c0" stroke="#adadad" stroke-width="0.5"/>
<rect x="379.55" y="190.61" width="4.10" height="10.50" fill="#c0c0c0" stroke="#adadad" stroke-width="0.5"/>
<rect x="386.75" y="190.61" width="4.10" height="10.50" fill="#c0c0c0" stroke="#adadad" stroke-width="0.5"/>
<text x="33.08" y="198.66" font-size="8.2" textLength="12.03" lengthAdjust="spacingAndGlyphs" fill="#111" stroke="#111" stroke-width="0.05">2%</text>
<text x="411.18" y="198.86" font-size="8.6" textLength="16.61" lengthAdjust="spacingAndGlyphs" fill="#111" stroke="#111" stroke-width="0.05">ATM</text>
<rect x="48.35" y="203.90" width="4.10" height="10.50" fill="#c0c0c0" stroke="#adadad" stroke-width="0.5"/>
<rect x="55.55" y="203.90" width="4.10" height="10.50" fill="#c0c0c0" stroke="#adadad" stroke-width="0.5"/>
<rect x="62.75" y="203.90" width="4.10" height="10.50" fill="#c0c0c0" stroke="#adadad" stroke-width="0.5"/>
<rect x="69.95" y="203.90" width="4.10" height="10.50" fill="#c0c0c0" stroke="#adadad" stroke-width="0.5"/>
<rect x="77.15" y="203.90" width="4.10" height="10.50" fill="#c0c0c0" stroke="#adadad" stroke-width="0.5"/>
<rect x="84.35" y="203.90" width="4.10" height="10.50" fill="#c0c0c0" stroke="#adadad" stroke-width="0.5"/>
<rect x="91.55" y="203.90" width="4.10" height="10.50" fill="#c0c0c0" stroke="#adadad" stroke-width="0.5"/>
<rect x="98.75" y="203.90" width="4.10" height="10.50" fill="#c0c0c0" stroke="#adadad" stroke-width="0.5"/>
<rect x="105.95" y="203.90" width="4.10" height="10.50" fill="#c0c0c0" stroke="#adadad" stroke-width="0.5"/>
<rect x="113.15" y="203.90" width="4.10" height="10.50" fill="#c0c0c0" stroke="#adadad" stroke-width="0.5"/>
<rect x="120.35" y="203.90" width="4.10" height="10.50" fill="#c0c0c0" stroke="#adadad" stroke-width="0.5"/>
<rect x="127.55" y="203.90" width="4.10" height="10.50" fill="#c0c0c0" stroke="#adadad" stroke-width="0.5"/>
<rect x="134.75" y="203.90" width="4.10" height="10.50" fill="#c0c0c0" stroke="#adadad" stroke-width="0.5"/>
<rect x="141.95" y="203.90" width="4.10" height="10.50" fill="#c0c0c0" stroke="#adadad" stroke-width="0.5"/>
<rect x="149.15" y="203.90" width="4.10" height="10.50" fill="#c0c0c0" stroke="#adadad" stroke-width="0.5"/>
<rect x="156.35" y="203.90" width="4.10" height="10.50" fill="#c0c0c0" stroke="#adadad" stroke-width="0.5"/>
<rect x="163.55" y="203.90" width="4.10" height="10.50" fill="#c0c0c0" stroke="#adadad" stroke-width="0.5"/>
<rect x="170.75" y="203.90" width="4.10" height="10.50" fill="#c0c0c0" stroke="#adadad" stroke-width="0.5"/>
<rect x="177.95" y="203.90" width="4.10" height="10.50" fill="#c0c0c0" stroke="#adadad" stroke-width="0.5"/>
<rect x="185.15" y="203.90" width="4.10" height="10.50" fill="#c0c0c0" stroke="#adadad" stroke-width="0.5"/>
<rect x="192.35" y="203.90" width="4.10" height="10.50" fill="#c0c0c0" stroke="#adadad" stroke-width="0.5"/>
<rect x="199.55" y="203.90" width="4.10" height="10.50" fill="#c0c0c0" stroke="#adadad" stroke-width="0.5"/>
<rect x="206.75" y="203.90" width="4.10" height="10.50" fill="#c0c0c0" stroke="#adadad" stroke-width="0.5"/>
<rect x="213.95" y="203.90" width="4.10" height="10.50" fill="#c0c0c0" stroke="#adadad" stroke-width="0.5"/>
<rect x="221.15" y="203.90" width="4.10" height="10.50" fill="#c0c0c0" stroke="#adadad" stroke-width="0.5"/>
<rect x="228.35" y="203.90" width="4.10" height="10.50" fill="#c0c0c0" stroke="#adadad" stroke-width="0.5"/>
<rect x="235.55" y="203.90" width="4.10" height="10.50" fill="#c0c0c0" stroke="#adadad" stroke-width="0.5"/>
<rect x="242.75" y="203.90" width="4.10" height="10.50" fill="#c0c0c0" stroke="#adadad" stroke-width="0.5"/>
<rect x="249.95" y="203.90" width="4.10" height="10.50" fill="#c0c0c0" stroke="#adadad" stroke-width="0.5"/>
<rect x="257.15" y="203.90" width="4.10" height="10.50" fill="#c0c0c0" stroke="#adadad" stroke-width="0.5"/>
<rect x="264.35" y="203.90" width="4.10" height="10.50" fill="#c0c0c0" stroke="#adadad" stroke-width="0.5"/>
<rect x="271.55" y="203.90" width="4.10" height="10.50" fill="#c0c0c0" stroke="#adadad" stroke-width="0.5"/>
<rect x="278.75" y="203.90" width="4.10" height="10.50" fill="#a30029" stroke="#930025" stroke-width="0.5"/>
<rect x="285.95" y="203.90" width="4.10" height="10.50" fill="#c0c0c0" stroke="#adadad" stroke-width="0.5"/>
<rect x="293.15" y="203.90" width="4.10" height="10.50" fill="#c0c0c0" stroke="#adadad" stroke-width="0.5"/>
<rect x="300.35" y="203.90" width="4.10" height="10.50" fill="#c0c0c0" stroke="#adadad" stroke-width="0.5"/>
<rect x="307.55" y="203.90" width="4.10" height="10.50" fill="#c0c0c0" stroke="#adadad" stroke-width="0.5"/>
<rect x="314.75" y="203.90" width="4.10" height="10.50" fill="#c0c0c0" stroke="#adadad" stroke-width="0.5"/>
<rect x="321.95" y="203.90" width="4.10" height="10.50" fill="#c0c0c0" stroke="#adadad" stroke-width="0.5"/>
<rect x="329.15" y="203.90" width="4.10" height="10.50" fill="#c0c0c0" stroke="#adadad" stroke-width="0.5"/>
<rect x="336.35" y="203.90" width="4.10" height="10.50" fill="#c0c0c0" stroke="#adadad" stroke-width="0.5"/>
<rect x="343.55" y="203.90" width="4.10" height="10.50" fill="#c0c0c0" stroke="#adadad" stroke-width="0.5"/>
<rect x="350.75" y="203.90" width="4.10" height="10.50" fill="#c0c0c0" stroke="#adadad" stroke-width="0.5"/>
<rect x="357.95" y="203.90" width="4.10" height="10.50" fill="#c0c0c0" stroke="#adadad" stroke-width="0.5"/>
<rect x="365.15" y="203.90" width="4.10" height="10.50" fill="#c0c0c0" stroke="#adadad" stroke-width="0.5"/>
<rect x="372.35" y="203.90" width="4.10" height="10.50" fill="#c0c0c0" stroke="#adadad" stroke-width="0.5"/>
<rect x="379.55" y="203.90" width="4.10" height="10.50" fill="#c0c0c0" stroke="#adadad" stroke-width="0.5"/>
<rect x="386.75" y="203.90" width="4.10" height="10.50" fill="#c0c0c0" stroke="#adadad" stroke-width="0.5"/>
<text x="33.08" y="211.95" font-size="8.2" textLength="12.03" lengthAdjust="spacingAndGlyphs" fill="#111" stroke="#111" stroke-width="0.05">2%</text>
<text x="412.22" y="212.15" font-size="8.6" textLength="21.28" lengthAdjust="spacingAndGlyphs" fill="#111" stroke="#111" stroke-width="0.05">CRBN</text>
<rect x="48.35" y="217.19" width="4.10" height="10.50" fill="#c0c0c0" stroke="#adadad" stroke-width="0.5"/>
<rect x="55.55" y="217.19" width="4.10" height="10.50" fill="#c0c0c0" stroke="#adadad" stroke-width="0.5"/>
<rect x="62.75" y="217.19" width="4.10" height="10.50" fill="#c0c0c0" stroke="#adadad" stroke-width="0.5"/>
<rect x="69.95" y="217.19" width="4.10" height="10.50" fill="#c0c0c0" stroke="#adadad" stroke-width="0.5"/>
<rect x="77.15" y="217.19" width="4.10" height="10.50" fill="#c0c0c0" stroke="#adadad" stroke-width="0.5"/>
<rect x="84.35" y="217.19" width="4.10" height="10.50" fill="#c0c0c0" stroke="#adadad" stroke-width="0.5"/>
<rect x="91.55" y="217.19" width="4.10" height="10.50" fill="#c0c0c0" stroke="#adadad" stroke-width="0.5"/>
<rect x="98.75" y="217.19" width="4.10" height="10.50" fill="#c0c0c0" stroke="#adadad" stroke-width="0.5"/>
<rect x="105.95" y="217.19" width="4.10" height="10.50" fill="#c0c0c0" stroke="#adadad" stroke-width="0.5"/>
<rect x="113.15" y="217.19" width="4.10" height="10.50" fill="#c0c0c0" stroke="#adadad" stroke-width="0.5"/>
<rect x="120.35" y="217.19" width="4.10" height="10.50" fill="#c0c0c0" stroke="#adadad" stroke-width="0.5"/>
<rect x="127.55" y="217.19" width="4.10" height="10.50" fill="#c0c0c0" stroke="#adadad" stroke-width="0.5"/>
<rect x="134.75" y="217.19" width="4.10" height="10.50" fill="#c0c0c0" stroke="#adadad" stroke-width="0.5"/>
<rect x="141.95" y="217.19" width="4.10" height="10.50" fill="#c0c0c0" stroke="#adadad" stroke-width="0.5"/>
<rect x="149.15" y="217.19" width="4.10" height="10.50" fill="#c0c0c0" stroke="#adadad" stroke-width="0.5"/>
<rect x="156.35" y="217.19" width="4.10" height="10.50" fill="#c0c0c0" stroke="#adadad" stroke-width="0.5"/>
<rect x="163.55" y="217.19" width="4.10" height="10.50" fill="#a30029" stroke="#930025" stroke-width="0.5"/>
<rect x="170.75" y="217.19" width="4.10" height="10.50" fill="#c0c0c0" stroke="#adadad" stroke-width="0.5"/>
<rect x="177.95" y="217.19" width="4.10" height="10.50" fill="#c0c0c0" stroke="#adadad" stroke-width="0.5"/>
<rect x="185.15" y="217.19" width="4.10" height="10.50" fill="#c0c0c0" stroke="#adadad" stroke-width="0.5"/>
<rect x="192.35" y="217.19" width="4.10" height="10.50" fill="#c0c0c0" stroke="#adadad" stroke-width="0.5"/>
<rect x="199.55" y="217.19" width="4.10" height="10.50" fill="#c0c0c0" stroke="#adadad" stroke-width="0.5"/>
<rect x="206.75" y="217.19" width="4.10" height="10.50" fill="#c0c0c0" stroke="#adadad" stroke-width="0.5"/>
<rect x="213.95" y="217.19" width="4.10" height="10.50" fill="#c0c0c0" stroke="#adadad" stroke-width="0.5"/>
<rect x="221.15" y="217.19" width="4.10" height="10.50" fill="#c0c0c0" stroke="#adadad" stroke-width="0.5"/>
<rect x="228.35" y="217.19" width="4.10" height="10.50" fill="#c0c0c0" stroke="#adadad" stroke-width="0.5"/>
<rect x="235.55" y="217.19" width="4.10" height="10.50" fill="#c0c0c0" stroke="#adadad" stroke-width="0.5"/>
<rect x="242.75" y="217.19" width="4.10" height="10.50" fill="#c0c0c0" stroke="#adadad" stroke-width="0.5"/>
<rect x="249.95" y="217.19" width="4.10" height="10.50" fill="#c0c0c0" stroke="#adadad" stroke-width="0.5"/>
<rect x="257.15" y="217.19" width="4.10" height="10.50" fill="#c0c0c0" stroke="#adadad" stroke-width="0.5"/>
<rect x="264.35" y="217.19" width="4.10" height="10.50" fill="#c0c0c0" stroke="#adadad" stroke-width="0.5"/>
<rect x="271.55" y="217.19" width="4.10" height="10.50" fill="#c0c0c0" stroke="#adadad" stroke-width="0.5"/>
<rect x="278.75" y="217.19" width="4.10" height="10.50" fill="#c0c0c0" stroke="#adadad" stroke-width="0.5"/>
<rect x="285.95" y="217.19" width="4.10" height="10.50" fill="#c0c0c0" stroke="#adadad" stroke-width="0.5"/>
<rect x="293.15" y="217.19" width="4.10" height="10.50" fill="#c0c0c0" stroke="#adadad" stroke-width="0.5"/>
<rect x="300.35" y="217.19" width="4.10" height="10.50" fill="#c0c0c0" stroke="#adadad" stroke-width="0.5"/>
<rect x="307.55" y="217.19" width="4.10" height="10.50" fill="#c0c0c0" stroke="#adadad" stroke-width="0.5"/>
<rect x="314.75" y="217.19" width="4.10" height="10.50" fill="#c0c0c0" stroke="#adadad" stroke-width="0.5"/>
<rect x="321.95" y="217.19" width="4.10" height="10.50" fill="#c0c0c0" stroke="#adadad" stroke-width="0.5"/>
<rect x="329.15" y="217.19" width="4.10" height="10.50" fill="#c0c0c0" stroke="#adadad" stroke-width="0.5"/>
<rect x="336.35" y="217.19" width="4.10" height="10.50" fill="#c0c0c0" stroke="#adadad" stroke-width="0.5"/>
<rect x="343.55" y="217.19" width="4.10" height="10.50" fill="#c0c0c0" stroke="#adadad" stroke-width="0.5"/>
<rect x="350.75" y="217.19" width="4.10" height="10.50" fill="#c0c0c0" stroke="#adadad" stroke-width="0.5"/>
<rect x="357.95" y="217.19" width="4.10" height="10.50" fill="#c0c0c0" stroke="#adadad" stroke-width="0.5"/>
<rect x="365.15" y="217.19" width="4.10" height="10.50" fill="#c0c0c0" stroke="#adadad" stroke-width="0.5"/>
<rect x="372.35" y="217.19" width="4.10" height="10.50" fill="#c0c0c0" stroke="#adadad" stroke-width="0.5"/>
<rect x="379.55" y="217.19" width="4.10" height="10.50" fill="#c0c0c0" stroke="#adadad" stroke-width="0.5"/>
<rect x="386.75" y="217.19" width="4.10" height="10.50" fill="#c0c0c0" stroke="#adadad" stroke-width="0.5"/>
<text x="33.08" y="225.24" font-size="8.2" textLength="12.03" lengthAdjust="spacingAndGlyphs" fill="#111" stroke="#111" stroke-width="0.05">2%</text>
<text x="412.85" y="225.44" font-size="8.6" textLength="30.56" lengthAdjust="spacingAndGlyphs" fill="#111" stroke="#111" stroke-width="0.05">FAM46C</text>
<rect x="48.35" y="230.48" width="4.10" height="10.50" fill="#c0c0c0" stroke="#adadad" stroke-width="0.5"/>
<rect x="55.55" y="230.48" width="4.10" height="10.50" fill="#a30029" stroke="#930025" stroke-width="0.5"/>
<rect x="62.75" y="230.48" width="4.10" height="10.50" fill="#c0c0c0" stroke="#adadad" stroke-width="0.5"/>
<rect x="69.95" y="230.48" width="4.10" height="10.50" fill="#c0c0c0" stroke="#adadad" stroke-width="0.5"/>
<rect x="77.15" y="230.48" width="4.10" height="10.50" fill="#c0c0c0" stroke="#adadad" stroke-width="0.5"/>
<rect x="84.35" y="230.48" width="4.10" height="10.50" fill="#c0c0c0" stroke="#adadad" stroke-width="0.5"/>
<rect x="91.55" y="230.48" width="4.10" height="10.50" fill="#c0c0c0" stroke="#adadad" stroke-width="0.5"/>
<rect x="98.75" y="230.48" width="4.10" height="10.50" fill="#c0c0c0" stroke="#adadad" stroke-width="0.5"/>
<rect x="105.95" y="230.48" width="4.10" height="10.50" fill="#c0c0c0" stroke="#adadad" stroke-width="0.5"/>
<rect x="113.15" y="230.48" width="4.10" height="10.50" fill="#c0c0c0" stroke="#adadad" stroke-width="0.5"/>
<rect x="120.35" y="230.48" width="4.10" height="10.50" fill="#c0c0c0" stroke="#adadad" stroke-width="0.5"/>
<rect x="127.55" y="230.48" width="4.10" height="10.50" fill="#c0c0c0" stroke="#adadad" stroke-width="0.5"/>
<rect x="134.75" y="230.48" width="4.10" height="10.50" fill="#c0c0c0" stroke="#adadad" stroke-width="0.5"/>
<rect x="141.95" y="230.48" width="4.10" height="10.50" fill="#c0c0c0" stroke="#adadad" stroke-width="0.5"/>
<rect x="149.15" y="230.48" width="4.10" height="10.50" fill="#c0c0c0" stroke="#adadad" stroke-width="0.5"/>
<rect x="156.35" y="230.48" width="4.10" height="10.50" fill="#c0c0c0" stroke="#adadad" stroke-width="0.5"/>
<rect x="163.55" y="230.48" width="4.10" height="10.50" fill="#c0c0c0" stroke="#adadad" stroke-width="0.5"/>
<rect x="170.75" y="230.48" width="4.10" height="10.50" fill="#c0c0c0" stroke="#adadad" stroke-width="0.5"/>
<rect x="177.95" y="230.48" width="4.10" height="10.50" fill="#c0c0c0" stroke="#adadad" stroke-width="0.5"/>
<rect x="185.15" y="230.48" width="4.10" height="10.50" fill="#c0c0c0" stroke="#adadad" stroke-width="0.5"/>
<rect x="192.35" y="230.48" width="4.10" height="10.50" fill="#c0c0c0" stroke="#adadad" stroke-width="0.5"/>
<rect x="199.55" y="230.48" width="4.10" height="10.50" fill="#c0c0c0" stroke="#adadad" stroke-width="0.5"/>
<rect x="206.75" y="230.48" width="4.10" height="10.50" fill="#c0c0c0" stroke="#adadad" stroke-width="0.5"/>
<rect x="213.95" y="230.48" width="4.10" height="10.50" fill="#c0c0c0" stroke="#adadad" stroke-width="0.5"/>
<rect x="221.15" y="230.48" width="4.10" height="10.50" fill="#c0c0c0" stroke="#adadad" stroke-width="0.5"/>
<rect x="228.35" y="230.48" width="4.10" height="10.50" fill="#c0c0c0" stroke="#adadad" stroke-width="0.5"/>
<rect x="235.55" y="230.48" width="4.10" height="10.50" fill="#c0c0c0" stroke="#adadad" stroke-width="0.5"/>
<rect x="242.75" y="230.48" width="4.10" height="10.50" fill="#c0c0c0" stroke="#adadad" stroke-width="0.5"/>
<rect x="249.95" y="230.48" width="4.10" height="10.50" fill="#c0c0c0" stroke="#adadad" stroke-width="0.5"/>
<rect x="257.15" y="230.48" width="4.10" height="10.50" fill="#c0c0c0" stroke="#adadad" stroke-width="0.5"/>
<rect x="264.35" y="230.48" width="4.10" height="10.50" fill="#c0c0c0" stroke="#adadad" stroke-width="0.5"/>
<rect x="271.55" y="230.48" width="4.10" height="10.50" fill="#c0c0c0" stroke="#adadad" stroke-width="0.5"/>
<rect x="278.75" y="230.48" width="4.10" height="10.50" fill="#c0c0c0" stroke="#adadad" stroke-width="0.5"/>
<rect x="285.95" y="230.48" width="4.10" height="10.50" fill="#c0c0c0" stroke="#adadad" stroke-width="0.5"/>
<rect x="293.15" y="230.48" width="4.10" height="10.50" fill="#c0c0c0" stroke="#adadad" stroke-width="0.5"/>
<rect x="300.35" y="230.48" width="4.10" height="10.50" fill="#c0c0c0" stroke="#adadad" stroke-width="0.5"/>
<rect x="307.55" y="230.48" width="4.10" height="10.50" fill="#c0c0c0" stroke="#adadad" stroke-width="0.5"/>
<rect x="314.75" y="230.48" width="4.10" height="10.50" fill="#c0c0c0" stroke="#adadad" stroke-width="0.5"/>
<rect x="321.95" y="230.48" width="4.10" height="10.50" fill="#c0c0c0" stroke="#adadad" stroke-width="0.5"/>
<rect x="329.15" y="230.48" width="4.10" height="10.50" fill="#c0c0c0" stroke="#adadad" stroke-width="0.5"/>
<rect x="336.35" y="230.48" width="4.10" height="10.50" fill="#c0c0c0" stroke="#adadad" stroke-width="0.5"/>
<rect x="343.55" y="230.48" width="4.10" height="10.50" fill="#c0c0c0" stroke="#adadad" stroke-width="0.5"/>
<rect x="350.75" y="230.48" width="4.10" height="10.50" fill="#c0c0c0" stroke="#adadad" stroke-width="0.5"/>
<rect x="357.95" y="230.48" width="4.10" height="10.50" fill="#c0c0c0" stroke="#adadad" stroke-width="0.5"/>
<rect x="365.15" y="230.48" width="4.10" height="10.50" fill="#c0c0c0" stroke="#adadad" stroke-width="0.5"/>
<rect x="372.35" y="230.48" width="4.10" height="10.50" fill="#c0c0c0" stroke="#adadad" stroke-width="0.5"/>
<rect x="379.55" y="230.48" width="4.10" height="10.50" fill="#c0c0c0" stroke="#adadad" stroke-width="0.5"/>
<rect x="386.75" y="230.48" width="4.10" height="10.50" fill="#c0c0c0" stroke="#adadad" stroke-width="0.5"/>
<text x="33.08" y="238.53" font-size="8.2" textLength="12.03" lengthAdjust="spacingAndGlyphs" fill="#111" stroke="#111" stroke-width="0.05">2%</text>
<text x="412.21" y="238.73" font-size="8.6" textLength="23.50" lengthAdjust="spacingAndGlyphs" fill="#111" stroke="#111" stroke-width="0.05">FGFR3</text>
<rect x="447.25" y="137.45" width="64.30" height="10.50" fill="#a30029" stroke="#860022" stroke-width="0.5"/>
<rect x="447.25" y="150.74" width="53.50" height="10.50" fill="#a30029" stroke="#860022" stroke-width="0.5"/>
<rect x="447.25" y="164.03" width="21.10" height="10.50" fill="#2d4a7d" stroke="#253d66" stroke-width="0.5"/>
<rect x="447.25" y="177.32" width="10.30" height="10.50" fill="#a30029" stroke="#860022" stroke-width="0.5"/>
<rect x="458.05" y="177.32" width="10.30" height="10.50" fill="#386a4e" stroke="#2e5740" stroke-width="0.5"/>
<rect x="447.25" y="190.61" width="10.30" height="10.50" fill="#a30029" stroke="#860022" stroke-width="0.5"/>
<rect x="447.25" y="203.90" width="10.30" height="10.50" fill="#a30029" stroke="#860022" stroke-width="0.5"/>
<rect x="447.25" y="217.19" width="10.30" height="10.50" fill="#a30029" stroke="#860022" stroke-width="0.5"/>
<rect x="447.25" y="230.48" width="10.30" height="10.50" fill="#a30029" stroke="#860022" stroke-width="0.5"/>
<rect x="47.00" y="246.60" width="7.49" height="15.00" fill="#4f2265"/>
<rect x="54.19" y="246.60" width="36.25" height="15.00" fill="#cf5f9d"/>
<rect x="90.14" y="246.60" width="7.49" height="15.00" fill="#b06b2a"/>
<rect x="97.33" y="246.60" width="43.44" height="15.00" fill="#abbb83"/>
<rect x="140.47" y="246.60" width="79.39" height="15.00" fill="#68a7de"/>
<rect x="219.56" y="246.60" width="36.25" height="15.00" fill="#6aa843"/>
<rect x="255.51" y="246.60" width="108.15" height="15.00" fill="#386a4e"/>
<rect x="363.36" y="246.60" width="28.76" height="15.00" fill="#2d4a7d"/>
<text x="408.96" y="260.80" font-size="8.6" textLength="29.52" lengthAdjust="spacingAndGlyphs" fill="#111" stroke="#111" stroke-width="0.05">Variants</text>
<rect x="409.25" y="266.25" width="11.60" height="12.50" fill="#2d4a7d" stroke="#253d66" stroke-width="0.5"/>
<text x="423.95" y="274.80" font-size="8.3" textLength="69.07" lengthAdjust="spacingAndGlyphs" fill="#111" stroke="#111" stroke-width="0.05">Frameshift insertion</text>
<rect x="409.25" y="282.75" width="11.60" height="12.50" fill="#a30029" stroke="#860022" stroke-width="0.5"/>
<text x="423.98" y="291.30" font-size="8.3" textLength="76.26" lengthAdjust="spacingAndGlyphs" fill="#111" stroke="#111" stroke-width="0.05">Non-synonymous SNV</text>
<rect x="409.25" y="299.25" width="11.60" height="12.50" fill="#386a4e" stroke="#2e5740" stroke-width="0.5"/>
<text x="424.24" y="307.80" font-size="8.3" textLength="31.48" lengthAdjust="spacingAndGlyphs" fill="#111" stroke="#111" stroke-width="0.05">Stopgain</text>
<rect x="47.10" y="385.00" width="6.20" height="0.50" fill="#957aa3"/>
<rect x="54.33" y="385.00" width="6.20" height="0.50" fill="#e29fc4"/>
<rect x="61.56" y="385.00" width="6.20" height="0.50" fill="#e29fc4"/>
<rect x="68.79" y="384.80" width="6.20" height="0.70" fill="#dd8fba"/>
<rect x="76.02" y="384.00" width="6.20" height="1.50" fill="#cf5f9d"/>
<rect x="83.25" y="385.00" width="6.20" height="0.50" fill="#e29fc4"/>
<rect x="90.48" y="385.20" width="6.20" height="0.30" fill="#ddc2a5"/>
<rect x="97.71" y="333.20" width="6.20" height="52.30" fill="#abbb83"/>
<rect x="104.94" y="340.10" width="6.20" height="45.40" fill="#abbb83"/>
<rect x="112.17" y="342.00" width="6.20" height="43.50" fill="#abbb83"/>
<rect x="119.40" y="353.00" width="6.20" height="32.50" fill="#abbb83"/>
<rect x="126.63" y="355.30" width="6.20" height="30.20" fill="#abbb83"/>
<rect x="133.86" y="357.00" width="6.20" height="28.50" fill="#abbb83"/>
<rect x="141.09" y="384.00" width="6.20" height="1.50" fill="#68a7de"/>
<rect x="148.32" y="384.00" width="6.20" height="1.50" fill="#68a7de"/>
<rect x="155.55" y="384.00" width="6.20" height="1.50" fill="#68a7de"/>
<rect x="162.78" y="384.00" width="6.20" height="1.50" fill="#68a7de"/>
<rect x="170.01" y="384.00" width="6.20" height="1.50" fill="#68a7de"/>
<rect x="177.24" y="384.00" width="6.20" height="1.50" fill="#68a7de"/>
<rect x="184.47" y="384.30" width="6.20" height="1.20" fill="#68a7de"/>
<rect x="191.70" y="384.30" width="6.20" height="1.20" fill="#68a7de"/>
<rect x="198.93" y="384.30" width="6.20" height="1.20" fill="#68a7de"/>
<rect x="206.16" y="384.30" width="6.20" height="1.20" fill="#68a7de"/>
<rect x="213.39" y="385.00" width="6.20" height="0.50" fill="#a4caeb"/>
<rect x="220.62" y="383.50" width="6.20" height="2.00" fill="#6aa843"/>
<rect x="227.85" y="384.00" width="6.20" height="1.50" fill="#6aa843"/>
<rect x="235.08" y="384.00" width="6.20" height="1.50" fill="#6aa843"/>
<rect x="242.31" y="384.90" width="6.20" height="0.60" fill="#9ec685"/>
<rect x="249.54" y="385.30" width="6.20" height="0.20" fill="#bcd8aa"/>
<rect x="256.77" y="381.50" width="6.20" height="4.00" fill="#386a4e"/>
<rect x="264.00" y="382.50" width="6.20" height="3.00" fill="#386a4e"/>
<rect x="271.23" y="383.00" width="6.20" height="2.50" fill="#386a4e"/>
<rect x="278.46" y="383.50" width="6.20" height="2.00" fill="#386a4e"/>
<rect x="285.69" y="383.50" width="6.20" height="2.00" fill="#386a4e"/>
<rect x="292.92" y="384.00" width="6.20" height="1.50" fill="#386a4e"/>
<rect x="300.15" y="384.00" width="6.20" height="1.50" fill="#386a4e"/>
<rect x="307.38" y="384.00" width="6.20" height="1.50" fill="#386a4e"/>
<rect x="314.61" y="384.50" width="6.20" height="1.00" fill="#386a4e"/>
<rect x="321.84" y="384.80" width="6.20" height="0.70" fill="#749783"/>
<rect x="329.07" y="385.00" width="6.20" height="0.50" fill="#88a695"/>
<rect x="336.30" y="385.20" width="6.20" height="0.30" fill="#9cb4a6"/>
<rect x="343.53" y="385.30" width="6.20" height="0.20" fill="#a5bcaf"/>
<rect x="350.76" y="385.30" width="6.20" height="0.20" fill="#a5bcaf"/>
<rect x="357.99" y="385.30" width="6.20" height="0.20" fill="#a5bcaf"/>
<rect x="365.22" y="384.00" width="6.20" height="1.50" fill="#2d4a7d"/>
<rect x="372.45" y="385.20" width="6.20" height="0.30" fill="#96a4be"/>
<rect x="379.68" y="385.20" width="6.20" height="0.30" fill="#96a4be"/>
<rect x="386.91" y="385.20" width="6.20" height="0.30" fill="#96a4be"/>
<text x="398.80" y="356.63" font-size="9.6" textLength="25.42" lengthAdjust="spacingAndGlyphs" transform="rotate(90 398.80 356.63)" fill="#111" stroke="#111" stroke-width="0.05">CCND1</text>
<rect x="54.33" y="444.50" width="6.20" height="1.50" fill="#cf5f9d"/>
<rect x="61.56" y="445.00" width="6.20" height="1.00" fill="#cf5f9d"/>
<rect x="68.79" y="443.00" width="6.20" height="3.00" fill="#cf5f9d"/>
<rect x="76.02" y="444.70" width="6.20" height="1.30" fill="#cf5f9d"/>
<rect x="83.25" y="445.00" width="6.20" height="1.00" fill="#cf5f9d"/>
<rect x="90.48" y="393.40" width="6.20" height="52.60" fill="#bb864b"/>
<rect x="97.71" y="445.70" width="6.20" height="0.30" fill="#d5ddc1"/>
<rect x="104.94" y="445.70" width="6.20" height="0.30" fill="#d5ddc1"/>
<rect x="112.17" y="445.70" width="6.20" height="0.30" fill="#d5ddc1"/>
<rect x="119.40" y="445.70" width="6.20" height="0.30" fill="#d5ddc1"/>
<rect x="126.63" y="445.70" width="6.20" height="0.30" fill="#d5ddc1"/>
<rect x="133.86" y="445.70" width="6.20" height="0.30" fill="#d5ddc1"/>
<rect x="141.09" y="445.70" width="6.20" height="0.30" fill="#b4d3ee"/>
<rect x="148.32" y="445.50" width="6.20" height="0.50" fill="#a4caeb"/>
<rect x="155.55" y="445.50" width="6.20" height="0.50" fill="#a4caeb"/>
<rect x="162.78" y="445.70" width="6.20" height="0.30" fill="#b4d3ee"/>
<rect x="170.01" y="445.70" width="6.20" height="0.30" fill="#b4d3ee"/>
<rect x="177.24" y="445.20" width="6.20" height="0.80" fill="#8ebde6"/>
<rect x="184.47" y="445.70" width="6.20" height="0.30" fill="#b4d3ee"/>
<rect x="191.70" y="445.70" width="6.20" height="0.30" fill="#b4d3ee"/>
<rect x="198.93" y="445.70" width="6.20" height="0.30" fill="#b4d3ee"/>
<rect x="206.16" y="445.70" width="6.20" height="0.30" fill="#b4d3ee"/>
<rect x="213.39" y="445.20" width="6.20" height="0.80" fill="#8ebde6"/>
<rect x="220.62" y="445.70" width="6.20" height="0.30" fill="#b4d4a1"/>
<rect x="227.85" y="445.70" width="6.20" height="0.30" fill="#b4d4a1"/>
<rect x="235.08" y="445.70" width="6.20" height="0.30" fill="#b4d4a1"/>
<rect x="242.31" y="443.50" width="6.20" height="2.50" fill="#6aa843"/>
<rect x="249.54" y="445.00" width="6.20" height="1.00" fill="#6aa843"/>
<rect x="256.77" y="445.70" width="6.20" height="0.30" fill="#9cb4a6"/>
<rect x="264.00" y="445.70" width="6.20" height="0.30" fill="#9cb4a6"/>
<rect x="271.23" y="445.70" width="6.20" height="0.30" fill="#9cb4a6"/>
<rect x="278.46" y="445.70" width="6.20" height="0.30" fill="#9cb4a6"/>
<rect x="285.69" y="445.20" width="6.20" height="0.80" fill="#6a8f7a"/>
<rect x="292.92" y="445.70" width="6.20" height="0.30" fill="#9cb4a6"/>
<rect x="300.15" y="445.70" width="6.20" height="0.30" fill="#9cb4a6"/>
<rect x="307.38" y="445.70" width="6.20" height="0.30" fill="#9cb4a6"/>
<rect x="314.61" y="445.70" width="6.20" height="0.30" fill="#9cb4a6"/>
<rect x="321.84" y="445.30" width="6.20" height="0.70" fill="#749783"/>
<rect x="329.07" y="424.40" width="6.20" height="21.60" fill="#386a4e"/>
<rect x="336.30" y="444.00" width="6.20" height="2.00" fill="#386a4e"/>
<rect x="343.53" y="444.50" width="6.20" height="1.50" fill="#386a4e"/>
<rect x="350.76" y="445.30" width="6.20" height="0.70" fill="#749783"/>
<rect x="357.99" y="444.30" width="6.20" height="1.70" fill="#386a4e"/>
<rect x="372.45" y="445.20" width="6.20" height="0.80" fill="#62779e"/>
<rect x="379.68" y="444.00" width="6.20" height="2.00" fill="#2d4a7d"/>
<rect x="386.91" y="445.20" width="6.20" height="0.80" fill="#62779e"/>
<text x="398.80" y="417.01" font-size="9.6" textLength="26.88" lengthAdjust="spacingAndGlyphs" transform="rotate(90 398.80 417.01)" fill="#111" stroke="#111" stroke-width="0.05">CCND2</text>
<rect x="47.10" y="454.40" width="6.20" height="51.90" fill="#4f2265"/>
<rect x="54.33" y="504.80" width="6.20" height="1.50" fill="#cf5f9d"/>
<rect x="61.56" y="505.80" width="6.20" height="0.50" fill="#e29fc4"/>
<rect x="68.79" y="505.30" width="6.20" height="1.00" fill="#cf5f9d"/>
<rect x="76.02" y="505.30" width="6.20" height="1.00" fill="#cf5f9d"/>
<rect x="83.25" y="503.30" width="6.20" height="3.00" fill="#cf5f9d"/>
<rect x="90.48" y="502.30" width="6.20" height="4.00" fill="#bb864b"/>
<rect x="97.71" y="505.30" width="6.20" height="1.00" fill="#abbb83"/>
<rect x="104.94" y="505.80" width="6.20" height="0.50" fill="#cdd6b5"/>
<rect x="112.17" y="505.30" width="6.20" height="1.00" fill="#abbb83"/>
<rect x="119.40" y="504.30" width="6.20" height="2.00" fill="#abbb83"/>
<rect x="126.63" y="506.00" width="6.20" height="0.30" fill="#d5ddc1"/>
<rect x="133.86" y="506.00" width="6.20" height="0.30" fill="#d5ddc1"/>
<rect x="141.09" y="505.60" width="6.20" height="0.70" fill="#95c1e8"/>
<rect x="148.32" y="505.60" width="6.20" height="0.70" fill="#95c1e8"/>
<rect x="155.55" y="505.30" width="6.20" height="1.00" fill="#68a7de"/>
<rect x="162.78" y="505.30" width="6.20" height="1.00" fill="#68a7de"/>
<rect x="170.01" y="504.80" width="6.20" height="1.50" fill="#68a7de"/>
<rect x="177.24" y="506.00" width="6.20" height="0.30" fill="#b4d3ee"/>
<rect x="184.47" y="505.30" width="6.20" height="1.00" fill="#68a7de"/>
<rect x="191.70" y="503.80" width="6.20" height="2.50" fill="#68a7de"/>
<rect x="198.93" y="505.30" width="6.20" height="1.00" fill="#68a7de"/>
<rect x="206.16" y="505.80" width="6.20" height="0.50" fill="#a4caeb"/>
<rect x="213.39" y="504.80" width="6.20" height="1.50" fill="#68a7de"/>
<rect x="220.62" y="505.50" width="6.20" height="0.80" fill="#8fbe72"/>
<rect x="227.85" y="505.50" width="6.20" height="0.80" fill="#8fbe72"/>
<rect x="235.08" y="504.80" width="6.20" height="1.50" fill="#6aa843"/>
<rect x="242.31" y="504.80" width="6.20" height="1.50" fill="#6aa843"/>
<rect x="249.54" y="503.30" width="6.20" height="3.00" fill="#6aa843"/>
<rect x="256.77" y="504.80" width="6.20" height="1.50" fill="#386a4e"/>
<rect x="264.00" y="504.80" width="6.20" height="1.50" fill="#386a4e"/>
<rect x="271.23" y="502.80" width="6.20" height="3.50" fill="#386a4e"/>
<rect x="278.46" y="505.80" width="6.20" height="0.50" fill="#88a695"/>
<rect x="285.69" y="505.30" width="6.20" height="1.00" fill="#386a4e"/>
<rect x="292.92" y="505.80" width="6.20" height="0.50" fill="#88a695"/>
<rect x="300.15" y="504.80" width="6.20" height="1.50" fill="#386a4e"/>
<rect x="307.38" y="505.80" width="6.20" height="0.50" fill="#88a695"/>
<rect x="314.61" y="504.30" width="6.20" height="2.00" fill="#386a4e"/>
<rect x="321.84" y="506.00" width="6.20" height="0.30" fill="#9cb4a6"/>
<rect x="329.07" y="504.80" width="6.20" height="1.50" fill="#386a4e"/>
<rect x="336.30" y="505.30" width="6.20" height="1.00" fill="#386a4e"/>
<rect x="343.53" y="506.00" width="6.20" height="0.30" fill="#9cb4a6"/>
<rect x="350.76" y="505.80" width="6.20" height="0.50" fill="#88a695"/>
<rect x="357.99" y="505.80" width="6.20" height="0.50" fill="#88a695"/>
<rect x="365.22" y="505.80" width="6.20" height="0.50" fill="#8192b1"/>
<rect x="372.45" y="500.00" width="6.20" height="6.30" fill="#2d4a7d"/>
<rect x="379.68" y="505.80" width="6.20" height="0.50" fill="#8192b1"/>
<rect x="386.91" y="500.70" width="6.20" height="5.60" fill="#2d4a7d"/>
<text x="398.80" y="478.02" font-size="9.6" textLength="26.31" lengthAdjust="spacingAndGlyphs" transform="rotate(90 398.80 478.02)" fill="#111" stroke="#111" stroke-width="0.05">CCND3</text>
<rect x="54.33" y="544.90" width="6.20" height="22.10" fill="#cf5f9d"/>
<rect x="61.56" y="514.40" width="6.20" height="52.60" fill="#cf5f9d"/>
<rect x="68.79" y="566.70" width="6.20" height="0.30" fill="#e7afce"/>
<rect x="76.02" y="565.50" width="6.20" height="1.50" fill="#cf5f9d"/>
<rect x="83.25" y="560.30" width="6.20" height="6.70" fill="#cf5f9d"/>
<rect x="90.48" y="566.70" width="6.20" height="0.30" fill="#ddc2a5"/>
<rect x="97.71" y="566.70" width="6.20" height="0.30" fill="#d5ddc1"/>
<rect x="104.94" y="566.80" width="6.20" height="0.20" fill="#d9e0c7"/>
<rect x="112.17" y="566.80" width="6.20" height="0.20" fill="#d9e0c7"/>
<rect x="119.40" y="566.80" width="6.20" height="0.20" fill="#d9e0c7"/>
<rect x="126.63" y="566.80" width="6.20" height="0.20" fill="#d9e0c7"/>
<rect x="133.86" y="566.80" width="6.20" height="0.20" fill="#d9e0c7"/>
<rect x="141.09" y="566.70" width="6.20" height="0.30" fill="#b4d3ee"/>
<rect x="148.32" y="566.80" width="6.20" height="0.20" fill="#bbd7f0"/>
<rect x="155.55" y="566.80" width="6.20" height="0.20" fill="#bbd7f0"/>
<rect x="162.78" y="566.80" width="6.20" height="0.20" fill="#bbd7f0"/>
<rect x="170.01" y="566.80" width="6.20" height="0.20" fill="#bbd7f0"/>
<rect x="177.24" y="566.70" width="6.20" height="0.30" fill="#b4d3ee"/>
<rect x="184.47" y="566.80" width="6.20" height="0.20" fill="#bbd7f0"/>
<rect x="191.70" y="566.80" width="6.20" height="0.20" fill="#bbd7f0"/>
<rect x="198.93" y="566.70" width="6.20" height="0.30" fill="#b4d3ee"/>
<rect x="206.16" y="566.80" width="6.20" height="0.20" fill="#bbd7f0"/>
<rect x="213.39" y="566.80" width="6.20" height="0.20" fill="#bbd7f0"/>
<rect x="220.62" y="566.80" width="6.20" height="0.20" fill="#bcd8aa"/>
<rect x="227.85" y="566.80" width="6.20" height="0.20" fill="#bcd8aa"/>
<rect x="235.08" y="566.80" width="6.20" height="0.20" fill="#bcd8aa"/>
<rect x="242.31" y="566.80" width="6.20" height="0.20" fill="#bcd8aa"/>
<rect x="249.54" y="566.80" width="6.20" height="0.20" fill="#bcd8aa"/>
<rect x="256.77" y="566.70" width="6.20" height="0.30" fill="#9cb4a6"/>
<rect x="264.00" y="566.70" width="6.20" height="0.30" fill="#9cb4a6"/>
<rect x="271.23" y="566.70" width="6.20" height="0.30" fill="#9cb4a6"/>
<rect x="278.46" y="566.70" width="6.20" height="0.30" fill="#9cb4a6"/>
<rect x="285.69" y="566.70" width="6.20" height="0.30" fill="#9cb4a6"/>
<rect x="292.92" y="566.70" width="6.20" height="0.30" fill="#9cb4a6"/>
<rect x="300.15" y="566.70" width="6.20" height="0.30" fill="#9cb4a6"/>
<rect x="307.38" y="566.70" width="6.20" height="0.30" fill="#9cb4a6"/>
<rect x="314.61" y="566.70" width="6.20" height="0.30" fill="#9cb4a6"/>
<rect x="321.84" y="566.70" width="6.20" height="0.30" fill="#9cb4a6"/>
<rect x="329.07" y="566.70" width="6.20" height="0.30" fill="#9cb4a6"/>
<rect x="336.30" y="566.70" width="6.20" height="0.30" fill="#9cb4a6"/>
<rect x="343.53" y="566.70" width="6.20" height="0.30" fill="#9cb4a6"/>
<rect x="350.76" y="566.70" width="6.20" height="0.30" fill="#9cb4a6"/>
<rect x="357.99" y="566.70" width="6.20" height="0.30" fill="#9cb4a6"/>
<rect x="365.22" y="566.70" width="6.20" height="0.30" fill="#96a4be"/>
<rect x="372.45" y="566.70" width="6.20" height="0.30" fill="#96a4be"/>
<rect x="379.68" y="566.70" width="6.20" height="0.30" fill="#96a4be"/>
<rect x="386.91" y="566.70" width="6.20" height="0.30" fill="#96a4be"/>
<text x="398.80" y="541.30" font-size="9.6" textLength="24.02" lengthAdjust="spacingAndGlyphs" transform="rotate(90 398.80 541.30)" fill="#111" stroke="#111" stroke-width="0.05">FGFR3</text>
<rect x="47.10" y="627.20" width="6.20" height="0.30" fill="#a790b2"/>
<rect x="54.33" y="626.50" width="6.20" height="1.00" fill="#cf5f9d"/>
<rect x="61.56" y="627.00" width="6.20" height="0.50" fill="#e29fc4"/>
<rect x="68.79" y="627.20" width="6.20" height="0.30" fill="#e7afce"/>
<rect x="76.02" y="626.50" width="6.20" height="1.00" fill="#cf5f9d"/>
<rect x="83.25" y="626.50" width="6.20" height="1.00" fill="#cf5f9d"/>
<rect x="90.48" y="575.10" width="6.20" height="52.40" fill="#bb864b"/>
<rect x="97.71" y="627.00" width="6.20" height="0.50" fill="#cdd6b5"/>
<rect x="104.94" y="627.20" width="6.20" height="0.30" fill="#d5ddc1"/>
<rect x="112.17" y="627.20" width="6.20" height="0.30" fill="#d5ddc1"/>
<rect x="119.40" y="627.20" width="6.20" height="0.30" fill="#d5ddc1"/>
<rect x="126.63" y="627.20" width="6.20" height="0.30" fill="#d5ddc1"/>
<rect x="133.86" y="627.20" width="6.20" height="0.30" fill="#d5ddc1"/>
<rect x="141.09" y="627.20" width="6.20" height="0.30" fill="#b4d3ee"/>
<rect x="148.32" y="627.20" width="6.20" height="0.30" fill="#b4d3ee"/>
<rect x="155.55" y="627.20" width="6.20" height="0.30" fill="#b4d3ee"/>
<rect x="162.78" y="627.20" width="6.20" height="0.30" fill="#b4d3ee"/>
<rect x="170.01" y="627.20" width="6.20" height="0.30" fill="#b4d3ee"/>
<rect x="177.24" y="626.80" width="6.20" height="0.70" fill="#95c1e8"/>
<rect x="184.47" y="627.20" width="6.20" height="0.30" fill="#b4d3ee"/>
<rect x="191.70" y="627.20" width="6.20" height="0.30" fill="#b4d3ee"/>
<rect x="198.93" y="627.20" width="6.20" height="0.30" fill="#b4d3ee"/>
<rect x="206.16" y="626.00" width="6.20" height="1.50" fill="#68a7de"/>
<rect x="213.39" y="627.30" width="6.20" height="0.20" fill="#bbd7f0"/>
<rect x="220.62" y="626.20" width="6.20" height="1.30" fill="#6aa843"/>
<rect x="227.85" y="626.20" width="6.20" height="1.30" fill="#6aa843"/>
<rect x="235.08" y="627.00" width="6.20" height="0.50" fill="#a6cb8e"/>
<rect x="242.31" y="627.00" width="6.20" height="0.50" fill="#a6cb8e"/>
<rect x="249.54" y="626.00" width="6.20" height="1.50" fill="#6aa843"/>
<rect x="256.77" y="626.00" width="6.20" height="1.50" fill="#386a4e"/>
<rect x="264.00" y="627.30" width="6.20" height="0.20" fill="#a5bcaf"/>
<rect x="271.23" y="627.00" width="6.20" height="0.50" fill="#88a695"/>
<rect x="278.46" y="626.00" width="6.20" height="1.50" fill="#386a4e"/>
<rect x="285.69" y="627.30" width="6.20" height="0.20" fill="#a5bcaf"/>
<rect x="292.92" y="626.00" width="6.20" height="1.50" fill="#386a4e"/>
<rect x="300.15" y="627.00" width="6.20" height="0.50" fill="#88a695"/>
<rect x="307.38" y="625.50" width="6.20" height="2.00" fill="#386a4e"/>
<rect x="314.61" y="627.20" width="6.20" height="0.30" fill="#9cb4a6"/>
<rect x="321.84" y="626.50" width="6.20" height="1.00" fill="#386a4e"/>
<rect x="329.07" y="619.00" width="6.20" height="8.50" fill="#386a4e"/>
<rect x="336.30" y="627.00" width="6.20" height="0.50" fill="#88a695"/>
<rect x="343.53" y="627.00" width="6.20" height="0.50" fill="#88a695"/>
<rect x="350.76" y="627.30" width="6.20" height="0.20" fill="#a5bcaf"/>
<rect x="357.99" y="627.30" width="6.20" height="0.20" fill="#a5bcaf"/>
<rect x="365.22" y="626.50" width="6.20" height="1.00" fill="#2d4a7d"/>
<rect x="372.45" y="626.50" width="6.20" height="1.00" fill="#2d4a7d"/>
<rect x="379.68" y="627.30" width="6.20" height="0.20" fill="#a0aec4"/>
<rect x="386.91" y="626.80" width="6.20" height="0.70" fill="#6c80a4"/>
<text x="398.80" y="609.44" font-size="9.6" textLength="16.78" lengthAdjust="spacingAndGlyphs" transform="rotate(90 398.80 609.44)" fill="#111" stroke="#111" stroke-width="0.05">MAF</text>
<rect x="47.10" y="685.50" width="6.20" height="2.50" fill="#4f2265"/>
<rect x="54.33" y="635.80" width="6.20" height="52.20" fill="#cf5f9d"/>
<rect x="61.56" y="647.40" width="6.20" height="40.60" fill="#cf5f9d"/>
<rect x="68.79" y="663.00" width="6.20" height="25.00" fill="#cf5f9d"/>
<rect x="76.02" y="664.40" width="6.20" height="23.60" fill="#cf5f9d"/>
<rect x="83.25" y="677.00" width="6.20" height="11.00" fill="#cf5f9d"/>
<rect x="90.48" y="685.50" width="6.20" height="2.50" fill="#bb864b"/>
<rect x="97.71" y="686.50" width="6.20" height="1.50" fill="#abbb83"/>
<rect x="104.94" y="686.50" width="6.20" height="1.50" fill="#abbb83"/>
<rect x="112.17" y="686.50" width="6.20" height="1.50" fill="#abbb83"/>
<rect x="119.40" y="686.50" width="6.20" height="1.50" fill="#abbb83"/>
<rect x="126.63" y="686.80" width="6.20" height="1.20" fill="#abbb83"/>
<rect x="133.86" y="684.40" width="6.20" height="3.60" fill="#abbb83"/>
<rect x="141.09" y="686.50" width="6.20" height="1.50" fill="#68a7de"/>
<rect x="148.32" y="686.50" width="6.20" height="1.50" fill="#68a7de"/>
<rect x="155.55" y="686.30" width="6.20" height="1.70" fill="#68a7de"/>
<rect x="162.78" y="686.80" width="6.20" height="1.20" fill="#68a7de"/>
<rect x="170.01" y="686.50" width="6.20" height="1.50" fill="#68a7de"/>
<rect x="177.24" y="686.00" width="6.20" height="2.00" fill="#68a7de"/>
<rect x="184.47" y="684.50" width="6.20" height="3.50" fill="#68a7de"/>
<rect x="191.70" y="686.50" width="6.20" height="1.50" fill="#68a7de"/>
<rect x="198.93" y="686.50" width="6.20" height="1.50" fill="#68a7de"/>
<rect x="206.16" y="686.50" width="6.20" height="1.50" fill="#68a7de"/>
<rect x="213.39" y="686.50" width="6.20" height="1.50" fill="#68a7de"/>
<rect x="220.62" y="686.50" width="6.20" height="1.50" fill="#6aa843"/>
<rect x="227.85" y="686.50" width="6.20" height="1.50" fill="#6aa843"/>
<rect x="235.08" y="687.00" width="6.20" height="1.00" fill="#6aa843"/>
<rect x="242.31" y="685.50" width="6.20" height="2.50" fill="#6aa843"/>
<rect x="249.54" y="686.50" width="6.20" height="1.50" fill="#6aa843"/>
<rect x="256.77" y="686.50" width="6.20" height="1.50" fill="#386a4e"/>
<rect x="264.00" y="686.30" width="6.20" height="1.70" fill="#386a4e"/>
<rect x="271.23" y="686.30" width="6.20" height="1.70" fill="#386a4e"/>
<rect x="278.46" y="686.50" width="6.20" height="1.50" fill="#386a4e"/>
<rect x="285.69" y="686.50" width="6.20" height="1.50" fill="#386a4e"/>
<rect x="292.92" y="686.30" width="6.20" height="1.70" fill="#386a4e"/>
<rect x="300.15" y="686.50" width="6.20" height="1.50" fill="#386a4e"/>
<rect x="307.38" y="686.50" width="6.20" height="1.50" fill="#386a4e"/>
<rect x="314.61" y="686.30" width="6.20" height="1.70" fill="#386a4e"/>
<rect x="321.84" y="686.00" width="6.20" height="2.00" fill="#386a4e"/>
<rect x="329.07" y="686.00" width="6.20" height="2.00" fill="#386a4e"/>
<rect x="336.30" y="686.00" width="6.20" height="2.00" fill="#386a4e"/>
<rect x="343.53" y="686.50" width="6.20" height="1.50" fill="#386a4e"/>
<rect x="350.76" y="686.50" width="6.20" height="1.50" fill="#386a4e"/>
<rect x="357.99" y="686.50" width="6.20" height="1.50" fill="#386a4e"/>
<rect x="365.22" y="687.00" width="6.20" height="1.00" fill="#2d4a7d"/>
<rect x="372.45" y="683.00" width="6.20" height="5.00" fill="#2d4a7d"/>
<rect x="379.68" y="687.00" width="6.20" height="1.00" fill="#2d4a7d"/>
<rect x="386.91" y="683.70" width="6.20" height="4.30" fill="#2d4a7d"/>
<text x="398.80" y="658.96" font-size="9.6" textLength="26.29" lengthAdjust="spacingAndGlyphs" transform="rotate(90 398.80 658.96)" fill="#111" stroke="#111" stroke-width="0.05">WHSC1</text>
<text x="31.80" y="559.30" font-size="10.9" textLength="84.85" lengthAdjust="spacingAndGlyphs" transform="rotate(-90 31.80 559.30)" fill="#111" stroke="#111" stroke-width="0.05">Relative expression</text>
<text x="41.82" y="698.70" font-size="5.8" textLength="16.34" lengthAdjust="spacingAndGlyphs" fill="#111" stroke="#111" stroke-width="0.05">t(6;14)</text>
<text x="63.92" y="698.70" font-size="5.8" textLength="16.13" lengthAdjust="spacingAndGlyphs" fill="#111" stroke="#111" stroke-width="0.05">t(4;14)</text>
<text x="84.22" y="698.70" font-size="5.8" textLength="19.24" lengthAdjust="spacingAndGlyphs" fill="#111" stroke="#111" stroke-width="0.05">t(14;16)</text>
<text x="106.11" y="698.70" font-size="5.8" textLength="19.45" lengthAdjust="spacingAndGlyphs" fill="#111" stroke="#111" stroke-width="0.05">t(11;14)</text>
<text x="162.38" y="698.70" font-size="5.8" textLength="35.03" lengthAdjust="spacingAndGlyphs" fill="#111" stroke="#111" stroke-width="0.05">hyperdiploidy</text>
<text x="228.59" y="698.70" font-size="5.8" textLength="18.72" lengthAdjust="spacingAndGlyphs" fill="#111" stroke="#111" stroke-width="0.05">normal</text>
<text x="303.24" y="698.70" font-size="5.8" textLength="13.85" lengthAdjust="spacingAndGlyphs" fill="#111" stroke="#111" stroke-width="0.05">other</text>
<text x="369.84" y="698.70" font-size="5.8" textLength="18.68" lengthAdjust="spacingAndGlyphs" fill="#111" stroke="#111" stroke-width="0.05">control</text>
<g shape-rendering="crispEdges">
<rect x="0" y="2" width="520" height="1" fill="#f4f4f4"/>
<rect x="0" y="705" width="520" height="1" fill="#f6f6f6"/>
<rect x="2" y="0" width="1" height="708" fill="#f8f8f8"/>
<rect x="517" y="0" width="1" height="708" fill="#f2f2f2"/>
<rect x="0" y="1" width="520" height="1" fill="#8a8a8a"/>
<rect x="0" y="706" width="520" height="1" fill="#a0a0a0"/>
<rect x="1" y="0" width="1" height="708" fill="#999"/>
<rect x="518" y="0" width="1" height="708" fill="#8a8a8a"/>
<rect x="0" y="0" width="520" height="1" fill="#1e1e1e"/>
<rect x="0" y="707" width="520" height="1" fill="#222"/>
<rect x="0" y="0" width="1" height="708" fill="#000"/>
<rect x="519" y="0" width="1" height="708" fill="#000"/>
</g>
</svg>
</body></html>
